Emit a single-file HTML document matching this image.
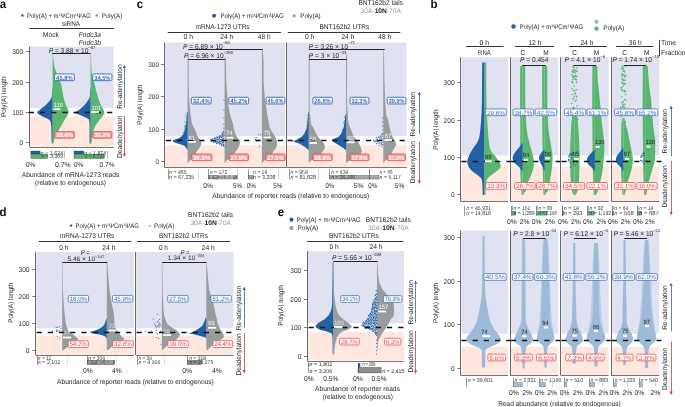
<!DOCTYPE html>
<html><head><meta charset="utf-8"><style>
html,body{margin:0;padding:0;background:#fff;width:685px;height:407px;overflow:hidden}
svg{display:block;will-change:transform}
text{font-family:"Liberation Sans",sans-serif;text-rendering:geometricPrecision}
</style></head><body>
<svg width="685" height="407" viewBox="0 0 685 407" font-family="Liberation Sans, sans-serif">
<rect width="685" height="407" fill="#fff"/>
<rect x="29.90" y="46.70" width="83.80" height="61.10" fill="#e0e2f2" />
<rect x="29.90" y="116.40" width="83.80" height="30.50" fill="#fde7df" />
<text x="-0.30" y="8.19" font-size="12.19" fill="#111" font-weight="bold" textLength="6.395078125" lengthAdjust="spacingAndGlyphs">a</text>
<circle cx="22.40" cy="15.50" r="1.30" fill="#2161a6"/>
<text x="27.00" y="17.90" font-size="6.68" fill="#262626" textLength="63.6" lengthAdjust="spacingAndGlyphs">Poly(A) + m<tspan font-size="3.78" dy="-1.6">1</tspan><tspan dy="1.6">Ψ</tspan>Cm<tspan font-size="3.78" dy="-1.6">1</tspan><tspan dy="1.6">Ψ</tspan>AG</text>
<circle cx="96.80" cy="15.50" r="1.30" fill="#58b66e"/>
<text x="101.70" y="17.90" font-size="6.68" fill="#262626" textLength="20.6" lengthAdjust="spacingAndGlyphs">Poly(A)</text>
<text x="62.00" y="26.08" font-size="6.89" fill="#262626" textLength="18" lengthAdjust="spacingAndGlyphs">siRNA</text>
<line x1="29.50" y1="28.50" x2="113.90" y2="28.50" stroke="#333" stroke-width="1.2" />
<text x="42.80" y="36.72" font-size="7.00" fill="#262626" textLength="16.2" lengthAdjust="spacingAndGlyphs">Mock</text>
<text x="78.80" y="36.72" font-size="7.00" fill="#262626" font-style="italic" textLength="22.2" lengthAdjust="spacingAndGlyphs">Fndc3a</text>
<text x="78.80" y="44.52" font-size="7.00" fill="#262626" font-style="italic" textLength="22.2" lengthAdjust="spacingAndGlyphs">Fndc3b</text>
<text x="0" y="2.44" font-size="6.78" fill="#262626" text-anchor="middle" textLength="40.8" lengthAdjust="spacingAndGlyphs" transform="translate(3.50 96.70) rotate(-90)">Poly(A) length</text>
<line x1="29.50" y1="46.70" x2="29.50" y2="147.00" stroke="#444" stroke-width="0.8" />
<line x1="25.90" y1="142.50" x2="29.50" y2="142.50" stroke="#444" stroke-width="0.7" />
<text x="23.20" y="144.92" font-size="7.00" fill="#333" text-anchor="end" textLength="3.6702187499999996" lengthAdjust="spacingAndGlyphs">0</text>
<line x1="25.90" y1="112.50" x2="29.50" y2="112.50" stroke="#444" stroke-width="0.7" />
<text x="23.20" y="114.72" font-size="7.00" fill="#333" text-anchor="end" textLength="11.01065625" lengthAdjust="spacingAndGlyphs">100</text>
<line x1="25.90" y1="82.50" x2="29.50" y2="82.50" stroke="#444" stroke-width="0.7" />
<text x="23.20" y="84.52" font-size="7.00" fill="#333" text-anchor="end" textLength="11.01065625" lengthAdjust="spacingAndGlyphs">200</text>
<line x1="25.90" y1="51.50" x2="29.50" y2="51.50" stroke="#444" stroke-width="0.7" />
<text x="23.20" y="54.32" font-size="7.00" fill="#333" text-anchor="end" textLength="11.01065625" lengthAdjust="spacingAndGlyphs">300</text>
<path d="M52.60,47.50 L53.00,47.50 C53.07,49.58 52.97,56.12 53.40,60.00 C53.83,63.88 54.35,66.85 55.60,70.80 C56.85,74.75 59.60,79.40 60.90,83.70 C62.20,88.00 62.63,93.17 63.40,96.60 C64.17,100.03 64.63,101.73 65.50,104.30 C66.37,106.87 68.75,109.42 68.60,112.00 C68.45,114.58 65.98,117.20 64.60,119.80 C63.22,122.40 61.80,125.02 60.30,127.60 C58.80,130.18 56.63,133.07 55.60,135.30 C54.57,137.53 54.47,139.63 54.10,141.00 C53.73,142.37 53.52,143.08 53.40,143.50 L52.60,143.50 Z" fill="#58b66e" />
<path d="M52.60,88.00 L52.30,88.00 C52.25,88.83 52.15,91.33 52.00,93.00 C51.85,94.67 52.30,96.12 51.40,98.00 C50.50,99.88 48.47,102.38 46.60,104.30 C44.73,106.22 41.78,108.12 40.20,109.50 C38.62,110.88 36.87,111.52 37.10,112.60 C37.33,113.68 39.58,114.80 41.60,116.00 C43.62,117.20 47.62,118.30 49.20,119.80 C50.78,121.30 50.70,121.63 51.10,125.00 C51.50,128.37 51.48,136.92 51.60,140.00 C51.72,143.08 51.77,142.92 51.80,143.50 L52.60,143.50 Z" fill="#2161a6" />
<path d="M90.60,52.70 L91.00,52.70 C91.05,54.75 91.17,61.78 91.30,65.00 C91.43,68.22 91.27,68.88 91.80,72.00 C92.33,75.12 93.62,80.03 94.50,83.70 C95.38,87.37 96.12,90.57 97.10,94.00 C98.08,97.43 99.20,101.20 100.40,104.30 C101.60,107.40 104.43,110.02 104.30,112.60 C104.17,115.18 101.23,117.30 99.60,119.80 C97.97,122.30 95.67,125.02 94.50,127.60 C93.33,130.18 93.05,133.07 92.60,135.30 C92.15,137.53 92.00,139.63 91.80,141.00 C91.60,142.37 91.47,143.08 91.40,143.50 L90.60,143.50 Z" fill="#58b66e" />
<path d="M90.60,88.00 L90.30,88.00 C90.25,88.83 90.15,91.33 90.00,93.00 C89.85,94.67 90.38,95.90 89.40,98.00 C88.42,100.10 86.05,103.47 84.10,105.60 C82.15,107.73 79.42,109.63 77.70,110.80 C75.98,111.97 73.37,111.87 73.80,112.60 C74.23,113.33 78.02,114.22 80.30,115.20 C82.58,116.18 85.98,117.30 87.50,118.50 C89.02,119.70 89.05,118.82 89.40,122.40 C89.75,125.98 89.53,136.48 89.60,140.00 C89.67,143.52 89.77,142.92 89.80,143.50 L90.60,143.50 Z" fill="#2161a6" />
<line x1="28.70" y1="112.50" x2="113.70" y2="112.50" stroke="#111" stroke-width="1.3" stroke-dasharray="5.2 6.0"/>
<text x="48.70" y="52.62" font-size="7.00" fill="#262626" textLength="46.57199249999999" lengthAdjust="spacingAndGlyphs"><tspan font-style="italic">P</tspan> = 3.88 × 10<tspan font-size="4.34" dy="-4.09">−87</tspan></text>
<line x1="52.40" y1="53.50" x2="90.70" y2="53.50" stroke="#1a1a1a" stroke-width="0.95" />
<rect x="54.65" y="73.95" width="19.70" height="6.70" rx="1.2" fill="#fff" stroke="#3a6cb8" stroke-width="0.95"/>
<text x="64.50" y="79.55" font-size="6.25" fill="#3a6cb8" text-anchor="middle" font-weight="bold" textLength="16.800000000000004" lengthAdjust="spacingAndGlyphs">45.8%</text>
<rect x="92.75" y="73.95" width="19.20" height="6.70" rx="1.2" fill="#fff" stroke="#3a6cb8" stroke-width="0.95"/>
<text x="102.35" y="79.55" font-size="6.25" fill="#3a6cb8" text-anchor="middle" font-weight="bold" textLength="16.29999999999999" lengthAdjust="spacingAndGlyphs">34.5%</text>
<rect x="54.65" y="131.55" width="19.70" height="6.70" rx="1.2" fill="#f4a0a0" stroke="#e8474a" stroke-width="0.75"/>
<text x="64.50" y="137.15" font-size="6.25" fill="#fff" text-anchor="middle" font-weight="bold" textLength="16.800000000000004" lengthAdjust="spacingAndGlyphs">28.4%</text>
<rect x="92.75" y="131.55" width="19.20" height="6.70" rx="1.2" fill="#f4a0a0" stroke="#e8474a" stroke-width="0.75"/>
<text x="102.35" y="137.15" font-size="6.25" fill="#fff" text-anchor="middle" font-weight="bold" textLength="16.29999999999999" lengthAdjust="spacingAndGlyphs">30.2%</text>
<rect x="53.50" y="108.30" width="6.80" height="1.80" fill="#fff" />
<text x="53.80" y="106.81" font-size="6.15" fill="#fff" textLength="9.2455625" lengthAdjust="spacingAndGlyphs">110</text>
<rect x="91.30" y="111.10" width="7.70" height="1.80" fill="#fff" />
<text x="91.60" y="109.61" font-size="6.15" fill="#fff" textLength="9.67603125" lengthAdjust="spacingAndGlyphs">101</text>
<rect x="30.90" y="151.00" width="9.20" height="3.10" fill="#2161a6" stroke="#222" stroke-width="0.3"/>
<rect x="30.90" y="154.10" width="16.80" height="4.40" fill="#58b66e" stroke="#222" stroke-width="0.3"/>
<text x="40.50" y="154.71" font-size="5.72" fill="#3a3a3a" textLength="22.7" lengthAdjust="spacingAndGlyphs"><tspan font-style="italic">n</tspan> = 1,624</text>
<text x="41.00" y="158.36" font-size="5.72" fill="#3a3a3a" textLength="22.1" lengthAdjust="spacingAndGlyphs"><tspan font-style="italic">n</tspan> = 3,369</text>
<line x1="64.50" y1="151.00" x2="64.50" y2="158.50" stroke="#555" stroke-width="0.4" />
<rect x="74.00" y="151.00" width="9.80" height="3.10" fill="#2161a6" stroke="#222" stroke-width="0.3"/>
<rect x="74.00" y="154.10" width="30.20" height="4.40" fill="#58b66e" stroke="#222" stroke-width="0.3"/>
<text x="84.20" y="154.71" font-size="5.72" fill="#3a3a3a" textLength="22.0" lengthAdjust="spacingAndGlyphs"><tspan font-style="italic">n</tspan> = 1,874</text>
<text x="84.70" y="158.36" font-size="5.72" fill="#3a3a3a" textLength="20.0" lengthAdjust="spacingAndGlyphs"><tspan font-style="italic">n</tspan> = 6,723</text>
<line x1="107.50" y1="151.00" x2="107.50" y2="158.50" stroke="#555" stroke-width="0.4" />
<text x="26.00" y="166.92" font-size="7.00" fill="#262626" textLength="9.2" lengthAdjust="spacingAndGlyphs">0%</text>
<text x="54.90" y="166.92" font-size="7.00" fill="#262626" textLength="15.8" lengthAdjust="spacingAndGlyphs">0.7%</text>
<text x="74.00" y="166.92" font-size="7.00" fill="#262626" textLength="9.2" lengthAdjust="spacingAndGlyphs">0%</text>
<text x="99.60" y="166.92" font-size="7.00" fill="#262626" textLength="15.1" lengthAdjust="spacingAndGlyphs">0.7%</text>
<text x="21.80" y="177.02" font-size="7.00" fill="#262626" textLength="97.4" lengthAdjust="spacingAndGlyphs">Abundance of mRNA-1273 reads</text>
<text x="35.10" y="185.22" font-size="7.00" fill="#262626" textLength="70.8" lengthAdjust="spacingAndGlyphs">(relative to endogenous)</text>
<line x1="124.50" y1="66.90" x2="124.50" y2="107.70" stroke="#4a74bd" stroke-width="0.9" />
<path d="M122.80,68.00 L124.40,64.40 L126.00,68.00 Z" fill="#3d6bb5"/>
<text x="0" y="2.52" font-size="7.00" fill="#262626" text-anchor="middle" textLength="44.392218750000005" lengthAdjust="spacingAndGlyphs" transform="translate(119.30 86.60) rotate(-90)">Re-adenylation</text>
<line x1="124.50" y1="115.80" x2="124.50" y2="154.60" stroke="#ec4a4d" stroke-width="0.9" />
<path d="M122.80,153.50 L124.40,157.10 L126.00,153.50 Z" fill="#e23b3e"/>
<text x="0" y="2.52" font-size="7.00" fill="#262626" text-anchor="middle" textLength="42.194624999999995" lengthAdjust="spacingAndGlyphs" transform="translate(119.30 136.80) rotate(-90)">Deadenylation</text>
<line x1="29.90" y1="147.50" x2="113.90" y2="147.50" stroke="#555" stroke-width="0.8" />
<rect x="165.00" y="42.50" width="120.20" height="93.60" fill="#e0e2f2" />
<rect x="165.00" y="145.40" width="120.20" height="21.60" fill="#fde7df" />
<rect x="287.00" y="42.50" width="119.60" height="93.60" fill="#e0e2f2" />
<rect x="287.00" y="145.40" width="119.60" height="21.60" fill="#fde7df" />
<text x="136.80" y="8.19" font-size="12.19" fill="#111" font-weight="bold" textLength="6.395078125" lengthAdjust="spacingAndGlyphs">c</text>
<circle cx="214.10" cy="15.80" r="2.00" fill="#2161a6"/>
<text x="220.60" y="18.20" font-size="6.68" fill="#262626" textLength="63.1" lengthAdjust="spacingAndGlyphs">Poly(A) + m<tspan font-size="3.78" dy="-1.6">1</tspan><tspan dy="1.6">Ψ</tspan>Cm<tspan font-size="3.78" dy="-1.6">1</tspan><tspan dy="1.6">Ψ</tspan>AG</text>
<circle cx="294.20" cy="15.80" r="1.60" fill="#979c9c"/>
<text x="300.30" y="18.20" font-size="6.68" fill="#262626" textLength="20.4" lengthAdjust="spacingAndGlyphs">Poly(A)</text>
<text x="195.50" y="28.78" font-size="6.89" fill="#262626" textLength="54.1" lengthAdjust="spacingAndGlyphs">mRNA-1273 UTRs</text>
<text x="319.40" y="28.78" font-size="6.89" fill="#262626" textLength="49.9" lengthAdjust="spacingAndGlyphs">BNT162b2 UTRs</text>
<text x="358.40" y="5.28" font-size="6.89" fill="#262626" textLength="44.6" lengthAdjust="spacingAndGlyphs">BNT162b2 tails</text>
<text x="360.60" y="12.70" font-size="6.68" fill="#262626" textLength="40.3" lengthAdjust="spacingAndGlyphs"><tspan fill="#999">30A-</tspan><tspan font-weight="bold" fill="#222">10N</tspan><tspan fill="#999">-70A</tspan></text>
<line x1="167.70" y1="32.50" x2="280.90" y2="32.50" stroke="#333" stroke-width="1.2" />
<line x1="287.80" y1="32.50" x2="400.40" y2="32.50" stroke="#333" stroke-width="1.2" />
<text x="183.60" y="39.42" font-size="7.00" fill="#262626" textLength="9.6" lengthAdjust="spacingAndGlyphs">0 h</text>
<text x="220.25" y="39.42" font-size="7.00" fill="#262626" textLength="12.9" lengthAdjust="spacingAndGlyphs">24 h</text>
<text x="257.85" y="39.42" font-size="7.00" fill="#262626" textLength="12.7" lengthAdjust="spacingAndGlyphs">48 h</text>
<text x="304.90" y="39.42" font-size="7.00" fill="#262626" textLength="9.4" lengthAdjust="spacingAndGlyphs">0 h</text>
<text x="341.45" y="39.42" font-size="7.00" fill="#262626" textLength="12.9" lengthAdjust="spacingAndGlyphs">24 h</text>
<text x="378.35" y="39.42" font-size="7.00" fill="#262626" textLength="12.7" lengthAdjust="spacingAndGlyphs">48 h</text>
<text x="0" y="2.44" font-size="6.78" fill="#262626" text-anchor="middle" textLength="40.2" lengthAdjust="spacingAndGlyphs" transform="translate(139.80 104.70) rotate(-90)">Poly(A) length</text>
<line x1="164.50" y1="42.50" x2="164.50" y2="167.20" stroke="#444" stroke-width="0.8" />
<line x1="161.00" y1="161.50" x2="164.60" y2="161.50" stroke="#444" stroke-width="0.7" />
<text x="159.00" y="164.24" font-size="6.78" fill="#333" text-anchor="end" textLength="3.559" lengthAdjust="spacingAndGlyphs">0</text>
<line x1="161.00" y1="129.50" x2="164.60" y2="129.50" stroke="#444" stroke-width="0.7" />
<text x="159.00" y="131.74" font-size="6.78" fill="#333" text-anchor="end" textLength="10.677" lengthAdjust="spacingAndGlyphs">100</text>
<line x1="161.00" y1="96.50" x2="164.60" y2="96.50" stroke="#444" stroke-width="0.7" />
<text x="159.00" y="99.24" font-size="6.78" fill="#333" text-anchor="end" textLength="10.677" lengthAdjust="spacingAndGlyphs">200</text>
<line x1="161.00" y1="64.50" x2="164.60" y2="64.50" stroke="#444" stroke-width="0.7" />
<text x="159.00" y="66.74" font-size="6.78" fill="#333" text-anchor="end" textLength="10.677" lengthAdjust="spacingAndGlyphs">300</text>
<line x1="286.50" y1="42.50" x2="286.50" y2="167.20" stroke="#444" stroke-width="0.8" />
<line x1="164.60" y1="167.50" x2="286.20" y2="167.50" stroke="#555" stroke-width="0.8" />
<line x1="286.60" y1="167.50" x2="406.80" y2="167.50" stroke="#555" stroke-width="0.8" />
<path d="M187.60,54.40 L188.10,54.40 C188.20,55.33 188.60,55.07 188.70,60.00 C188.80,64.93 188.62,77.33 188.70,84.00 C188.78,90.67 188.98,96.00 189.20,100.00 C189.42,104.00 189.73,105.33 190.00,108.00 C190.27,110.67 190.45,113.33 190.80,116.00 C191.15,118.67 191.55,122.00 192.10,124.00 C192.65,126.00 193.43,126.67 194.10,128.00 C194.77,129.33 195.58,130.67 196.10,132.00 C196.62,133.33 196.48,134.67 197.20,136.00 C197.92,137.33 199.73,138.67 200.40,140.00 C201.07,141.33 201.38,142.67 201.20,144.00 C201.02,145.33 200.10,146.67 199.30,148.00 C198.50,149.33 197.42,150.50 196.40,152.00 C195.38,153.50 194.40,155.50 193.20,157.00 C192.00,158.50 190.05,160.00 189.20,161.00 C188.35,162.00 188.28,162.67 188.10,163.00 L187.60,163.00 Z" fill="#979c9c" />
<path d="M187.60,112.00 L187.20,112.00 C187.12,113.00 186.93,115.83 186.70,118.00 C186.47,120.17 186.25,122.55 185.80,125.00 C185.35,127.45 184.97,130.63 184.00,132.70 C183.03,134.77 181.90,136.08 180.00,137.40 C178.10,138.72 173.30,139.68 172.60,140.60 C171.90,141.52 173.93,142.10 175.80,142.90 C177.67,143.70 182.00,144.45 183.80,145.40 C185.60,146.35 186.03,147.83 186.60,148.60 C187.17,149.37 187.10,149.77 187.20,150.00 L187.60,150.00 Z" fill="#2161a6" />
<circle cx="187.08" cy="112.73" r="0.55" fill="#2161a6"/>
<circle cx="185.97" cy="114.98" r="0.55" fill="#2161a6"/>
<circle cx="187.28" cy="116.32" r="0.55" fill="#2161a6"/>
<circle cx="186.35" cy="117.58" r="0.55" fill="#2161a6"/>
<circle cx="187.43" cy="119.34" r="0.55" fill="#2161a6"/>
<circle cx="186.58" cy="120.99" r="0.55" fill="#2161a6"/>
<circle cx="187.54" cy="122.34" r="0.55" fill="#2161a6"/>
<circle cx="185.06" cy="122.05" r="0.55" fill="#2161a6"/>
<circle cx="186.52" cy="123.63" r="0.55" fill="#2161a6"/>
<circle cx="187.35" cy="125.65" r="0.55" fill="#2161a6"/>
<circle cx="184.96" cy="125.81" r="0.55" fill="#2161a6"/>
<circle cx="185.83" cy="127.46" r="0.55" fill="#2161a6"/>
<circle cx="184.84" cy="126.81" r="0.55" fill="#2161a6"/>
<circle cx="187.43" cy="128.89" r="0.55" fill="#2161a6"/>
<circle cx="185.03" cy="128.83" r="0.55" fill="#2161a6"/>
<circle cx="185.92" cy="130.64" r="0.55" fill="#2161a6"/>
<circle cx="184.69" cy="130.71" r="0.55" fill="#2161a6"/>
<circle cx="186.75" cy="131.61" r="0.55" fill="#2161a6"/>
<circle cx="185.52" cy="131.90" r="0.55" fill="#2161a6"/>
<circle cx="183.28" cy="132.18" r="0.55" fill="#2161a6"/>
<path d="M224.60,57.60 L225.10,57.60 C225.20,58.00 225.47,55.60 225.70,60.00 C225.93,64.40 226.15,77.33 226.50,84.00 C226.85,90.67 227.40,96.00 227.80,100.00 C228.20,104.00 228.45,105.33 228.90,108.00 C229.35,110.67 229.82,113.33 230.50,116.00 C231.18,118.67 232.45,122.00 233.00,124.00 C233.55,126.00 233.27,126.00 233.80,128.00 C234.33,130.00 235.22,134.00 236.20,136.00 C237.18,138.00 239.12,138.67 239.70,140.00 C240.28,141.33 239.97,142.67 239.70,144.00 C239.43,145.33 238.82,146.67 238.10,148.00 C237.38,149.33 236.53,150.50 235.40,152.00 C234.27,153.50 232.85,155.50 231.30,157.00 C229.75,158.50 227.13,160.00 226.10,161.00 C225.07,162.00 225.27,162.67 225.10,163.00 L224.60,163.00 Z" fill="#979c9c" />
<path d="M261.90,49.60 L262.40,49.60 C262.58,51.33 263.27,54.27 263.50,60.00 C263.73,65.73 263.53,77.33 263.80,84.00 C264.07,90.67 264.67,96.00 265.10,100.00 C265.53,104.00 266.00,105.33 266.40,108.00 C266.80,110.67 267.05,113.33 267.50,116.00 C267.95,118.67 268.70,122.00 269.10,124.00 C269.50,126.00 268.97,126.00 269.90,128.00 C270.83,130.00 273.62,134.00 274.70,136.00 C275.78,138.00 275.98,138.67 276.40,140.00 C276.82,141.33 277.28,142.67 277.20,144.00 C277.12,145.33 276.58,146.67 275.90,148.00 C275.22,149.33 274.10,150.50 273.10,152.00 C272.10,153.50 271.43,155.50 269.90,157.00 C268.37,158.50 265.15,160.00 263.90,161.00 C262.65,162.00 262.65,162.67 262.40,163.00 L261.90,163.00 Z" fill="#979c9c" />
<path d="M308.70,54.40 L309.20,54.40 C309.28,55.33 309.62,51.07 309.70,60.00 C309.78,68.93 309.60,98.67 309.70,108.00 C309.80,117.33 310.07,113.33 310.30,116.00 C310.53,118.67 310.57,122.00 311.10,124.00 C311.63,126.00 312.43,126.00 313.50,128.00 C314.57,130.00 316.30,134.00 317.50,136.00 C318.70,138.00 319.62,138.67 320.70,140.00 C321.78,141.33 323.33,142.67 324.00,144.00 C324.67,145.33 324.98,146.67 324.70,148.00 C324.42,149.33 323.50,150.50 322.30,152.00 C321.10,153.50 319.50,155.50 317.50,157.00 C315.50,158.50 311.68,160.00 310.30,161.00 C308.92,162.00 309.38,162.67 309.20,163.00 L308.70,163.00 Z" fill="#979c9c" />
<path d="M308.70,112.00 L308.30,112.00 C308.23,113.00 308.07,116.00 307.90,118.00 C307.73,120.00 307.60,122.00 307.30,124.00 C307.00,126.00 306.90,128.00 306.10,130.00 C305.30,132.00 304.20,134.33 302.50,136.00 C300.80,137.67 297.37,139.08 295.90,140.00 C294.43,140.92 293.03,140.83 293.70,141.50 C294.37,142.17 297.80,142.92 299.90,144.00 C302.00,145.08 304.90,147.00 306.30,148.00 C307.70,149.00 307.97,149.67 308.30,150.00 L308.70,150.00 Z" fill="#2161a6" />
<circle cx="308.44" cy="113.53" r="0.55" fill="#2161a6"/>
<circle cx="307.18" cy="115.29" r="0.55" fill="#2161a6"/>
<circle cx="308.54" cy="117.31" r="0.55" fill="#2161a6"/>
<circle cx="307.79" cy="118.28" r="0.55" fill="#2161a6"/>
<circle cx="308.22" cy="119.79" r="0.55" fill="#2161a6"/>
<circle cx="307.12" cy="121.84" r="0.55" fill="#2161a6"/>
<circle cx="307.83" cy="123.09" r="0.55" fill="#2161a6"/>
<circle cx="307.55" cy="125.01" r="0.55" fill="#2161a6"/>
<circle cx="308.02" cy="126.62" r="0.55" fill="#2161a6"/>
<circle cx="306.81" cy="126.03" r="0.55" fill="#2161a6"/>
<circle cx="307.71" cy="128.29" r="0.55" fill="#2161a6"/>
<circle cx="308.14" cy="129.32" r="0.55" fill="#2161a6"/>
<circle cx="306.96" cy="129.50" r="0.55" fill="#2161a6"/>
<circle cx="306.99" cy="130.82" r="0.55" fill="#2161a6"/>
<circle cx="305.95" cy="131.33" r="0.55" fill="#2161a6"/>
<path d="M346.10,54.40 L346.60,54.40 C346.68,55.33 347.02,52.40 347.10,60.00 C347.18,67.60 347.05,92.00 347.10,100.00 C347.15,108.00 347.25,105.33 347.40,108.00 C347.55,110.67 347.90,114.00 348.00,116.00 C348.10,118.00 347.85,118.67 348.00,120.00 C348.15,121.33 348.50,122.67 348.90,124.00 C349.30,125.33 349.62,126.00 350.40,128.00 C351.18,130.00 352.52,134.00 353.60,136.00 C354.68,138.00 355.95,138.67 356.90,140.00 C357.85,141.33 358.63,142.67 359.30,144.00 C359.97,145.33 360.50,146.67 360.90,148.00 C361.30,149.33 362.33,150.50 361.70,152.00 C361.07,153.50 358.87,155.67 357.10,157.00 C355.33,158.33 352.68,159.17 351.10,160.00 C349.52,160.83 348.35,161.50 347.60,162.00 C346.85,162.50 346.77,162.83 346.60,163.00 L346.10,163.00 Z" fill="#979c9c" />
<path d="M346.10,114.00 L345.70,114.00 C345.57,115.00 345.27,117.67 344.90,120.00 C344.53,122.33 344.42,125.33 343.50,128.00 C342.58,130.67 341.32,134.00 339.40,136.00 C337.48,138.00 332.43,138.67 332.00,140.00 C331.57,141.33 334.93,142.67 336.80,144.00 C338.67,145.33 341.72,147.00 343.20,148.00 C344.68,149.00 345.28,149.67 345.70,150.00 L346.10,150.00 Z" fill="#2161a6" />
<circle cx="345.24" cy="116.20" r="0.55" fill="#2161a6"/>
<circle cx="344.44" cy="117.53" r="0.55" fill="#2161a6"/>
<circle cx="345.87" cy="119.42" r="0.55" fill="#2161a6"/>
<circle cx="344.75" cy="120.70" r="0.55" fill="#2161a6"/>
<circle cx="345.22" cy="122.20" r="0.55" fill="#2161a6"/>
<circle cx="343.77" cy="122.62" r="0.55" fill="#2161a6"/>
<circle cx="344.85" cy="124.09" r="0.55" fill="#2161a6"/>
<circle cx="345.63" cy="125.07" r="0.55" fill="#2161a6"/>
<circle cx="344.25" cy="125.72" r="0.55" fill="#2161a6"/>
<circle cx="344.68" cy="126.56" r="0.55" fill="#2161a6"/>
<circle cx="345.71" cy="128.52" r="0.55" fill="#2161a6"/>
<circle cx="344.17" cy="128.63" r="0.55" fill="#2161a6"/>
<circle cx="344.81" cy="130.17" r="0.55" fill="#2161a6"/>
<circle cx="342.88" cy="129.64" r="0.55" fill="#2161a6"/>
<circle cx="345.26" cy="132.10" r="0.55" fill="#2161a6"/>
<circle cx="344.24" cy="131.46" r="0.55" fill="#2161a6"/>
<path d="M383.30,49.60 L383.70,49.60 C383.77,51.55 383.95,55.57 384.10,61.30 C384.25,67.03 384.42,77.55 384.60,84.00 C384.78,90.45 385.02,96.00 385.20,100.00 C385.38,104.00 385.48,105.33 385.70,108.00 C385.92,110.67 386.10,114.00 386.50,116.00 C386.90,118.00 387.72,118.67 388.10,120.00 C388.48,121.33 388.53,122.67 388.80,124.00 C389.07,125.33 389.15,126.00 389.70,128.00 C390.25,130.00 391.30,134.00 392.10,136.00 C392.90,138.00 393.83,138.67 394.50,140.00 C395.17,141.33 396.10,142.67 396.10,144.00 C396.10,145.33 395.17,146.67 394.50,148.00 C393.83,149.33 392.90,150.50 392.10,152.00 C391.30,153.50 390.90,155.50 389.70,157.00 C388.50,158.50 385.88,160.00 384.90,161.00 C383.92,162.00 383.98,162.67 383.80,163.00 L383.30,163.00 Z" fill="#979c9c" />
<circle cx="223.59" cy="131.04" r="0.62" fill="#2161a6"/>
<circle cx="223.05" cy="132.21" r="0.62" fill="#2161a6"/>
<circle cx="223.90" cy="132.91" r="0.62" fill="#2161a6"/>
<circle cx="222.11" cy="133.53" r="0.62" fill="#2161a6"/>
<circle cx="222.96" cy="134.18" r="0.62" fill="#2161a6"/>
<circle cx="222.25" cy="134.37" r="0.62" fill="#2161a6"/>
<circle cx="224.07" cy="135.51" r="0.62" fill="#2161a6"/>
<circle cx="222.61" cy="135.24" r="0.62" fill="#2161a6"/>
<circle cx="221.31" cy="135.82" r="0.62" fill="#2161a6"/>
<circle cx="219.92" cy="135.72" r="0.62" fill="#2161a6"/>
<circle cx="223.29" cy="136.31" r="0.62" fill="#2161a6"/>
<circle cx="222.06" cy="136.73" r="0.62" fill="#2161a6"/>
<circle cx="220.39" cy="136.28" r="0.62" fill="#2161a6"/>
<circle cx="219.54" cy="136.63" r="0.62" fill="#2161a6"/>
<circle cx="218.13" cy="136.96" r="0.62" fill="#2161a6"/>
<circle cx="216.82" cy="136.99" r="0.62" fill="#2161a6"/>
<circle cx="223.72" cy="138.03" r="0.62" fill="#2161a6"/>
<circle cx="222.46" cy="138.13" r="0.62" fill="#2161a6"/>
<circle cx="221.50" cy="137.46" r="0.62" fill="#2161a6"/>
<circle cx="219.61" cy="137.56" r="0.62" fill="#2161a6"/>
<circle cx="218.97" cy="137.73" r="0.62" fill="#2161a6"/>
<circle cx="217.40" cy="137.63" r="0.62" fill="#2161a6"/>
<circle cx="216.01" cy="137.69" r="0.62" fill="#2161a6"/>
<circle cx="214.58" cy="137.85" r="0.62" fill="#2161a6"/>
<circle cx="223.22" cy="139.24" r="0.62" fill="#2161a6"/>
<circle cx="222.00" cy="139.26" r="0.62" fill="#2161a6"/>
<circle cx="220.84" cy="139.31" r="0.62" fill="#2161a6"/>
<circle cx="219.39" cy="138.65" r="0.62" fill="#2161a6"/>
<circle cx="218.24" cy="139.29" r="0.62" fill="#2161a6"/>
<circle cx="216.97" cy="138.97" r="0.62" fill="#2161a6"/>
<circle cx="215.52" cy="138.69" r="0.62" fill="#2161a6"/>
<circle cx="214.32" cy="138.98" r="0.62" fill="#2161a6"/>
<circle cx="212.58" cy="138.57" r="0.62" fill="#2161a6"/>
<circle cx="224.08" cy="140.44" r="0.62" fill="#2161a6"/>
<circle cx="222.17" cy="140.29" r="0.62" fill="#2161a6"/>
<circle cx="221.13" cy="139.77" r="0.62" fill="#2161a6"/>
<circle cx="219.74" cy="140.26" r="0.62" fill="#2161a6"/>
<circle cx="218.90" cy="139.68" r="0.62" fill="#2161a6"/>
<circle cx="217.39" cy="139.68" r="0.62" fill="#2161a6"/>
<circle cx="216.17" cy="139.91" r="0.62" fill="#2161a6"/>
<circle cx="215.00" cy="140.43" r="0.62" fill="#2161a6"/>
<circle cx="213.40" cy="140.45" r="0.62" fill="#2161a6"/>
<circle cx="211.95" cy="139.71" r="0.62" fill="#2161a6"/>
<circle cx="210.88" cy="139.67" r="0.62" fill="#2161a6"/>
<circle cx="222.91" cy="141.11" r="0.62" fill="#2161a6"/>
<circle cx="221.94" cy="140.90" r="0.62" fill="#2161a6"/>
<circle cx="220.18" cy="141.47" r="0.62" fill="#2161a6"/>
<circle cx="219.10" cy="141.55" r="0.62" fill="#2161a6"/>
<circle cx="218.27" cy="141.08" r="0.62" fill="#2161a6"/>
<circle cx="216.62" cy="141.20" r="0.62" fill="#2161a6"/>
<circle cx="215.47" cy="141.26" r="0.62" fill="#2161a6"/>
<circle cx="214.10" cy="141.28" r="0.62" fill="#2161a6"/>
<circle cx="213.10" cy="141.18" r="0.62" fill="#2161a6"/>
<circle cx="211.39" cy="141.36" r="0.62" fill="#2161a6"/>
<circle cx="223.59" cy="142.15" r="0.62" fill="#2161a6"/>
<circle cx="222.88" cy="142.33" r="0.62" fill="#2161a6"/>
<circle cx="221.24" cy="141.92" r="0.62" fill="#2161a6"/>
<circle cx="219.83" cy="142.37" r="0.62" fill="#2161a6"/>
<circle cx="218.22" cy="142.40" r="0.62" fill="#2161a6"/>
<circle cx="217.41" cy="141.96" r="0.62" fill="#2161a6"/>
<circle cx="216.10" cy="142.28" r="0.62" fill="#2161a6"/>
<circle cx="214.84" cy="142.19" r="0.62" fill="#2161a6"/>
<circle cx="213.57" cy="142.50" r="0.62" fill="#2161a6"/>
<circle cx="222.77" cy="143.09" r="0.62" fill="#2161a6"/>
<circle cx="221.99" cy="143.81" r="0.62" fill="#2161a6"/>
<circle cx="220.35" cy="143.41" r="0.62" fill="#2161a6"/>
<circle cx="219.32" cy="143.30" r="0.62" fill="#2161a6"/>
<circle cx="217.84" cy="143.29" r="0.62" fill="#2161a6"/>
<circle cx="216.55" cy="143.52" r="0.62" fill="#2161a6"/>
<circle cx="223.64" cy="144.47" r="0.62" fill="#2161a6"/>
<circle cx="222.72" cy="144.19" r="0.62" fill="#2161a6"/>
<circle cx="221.26" cy="144.76" r="0.62" fill="#2161a6"/>
<circle cx="219.75" cy="144.35" r="0.62" fill="#2161a6"/>
<circle cx="223.39" cy="145.49" r="0.62" fill="#2161a6"/>
<circle cx="221.60" cy="145.65" r="0.62" fill="#2161a6"/>
<circle cx="223.96" cy="146.52" r="0.62" fill="#2161a6"/>
<circle cx="223.90" cy="100.00" r="0.60" fill="#2161a6"/>
<circle cx="223.90" cy="110.00" r="0.60" fill="#2161a6"/>
<circle cx="223.90" cy="118.00" r="0.60" fill="#2161a6"/>
<circle cx="223.90" cy="124.00" r="0.60" fill="#2161a6"/>
<circle cx="223.90" cy="128.00" r="0.60" fill="#2161a6"/>
<circle cx="382.89" cy="133.32" r="0.60" fill="#2161a6"/>
<circle cx="381.74" cy="134.24" r="0.60" fill="#2161a6"/>
<circle cx="382.10" cy="136.12" r="0.60" fill="#2161a6"/>
<circle cx="380.87" cy="136.22" r="0.60" fill="#2161a6"/>
<circle cx="379.07" cy="136.23" r="0.60" fill="#2161a6"/>
<circle cx="381.52" cy="137.74" r="0.60" fill="#2161a6"/>
<circle cx="380.28" cy="137.35" r="0.60" fill="#2161a6"/>
<circle cx="378.39" cy="137.62" r="0.60" fill="#2161a6"/>
<circle cx="376.34" cy="137.49" r="0.60" fill="#2161a6"/>
<circle cx="382.91" cy="138.68" r="0.60" fill="#2161a6"/>
<circle cx="381.20" cy="139.10" r="0.60" fill="#2161a6"/>
<circle cx="379.54" cy="138.75" r="0.60" fill="#2161a6"/>
<circle cx="377.09" cy="139.22" r="0.60" fill="#2161a6"/>
<circle cx="376.10" cy="138.86" r="0.60" fill="#2161a6"/>
<circle cx="381.34" cy="140.09" r="0.60" fill="#2161a6"/>
<circle cx="380.18" cy="140.19" r="0.60" fill="#2161a6"/>
<circle cx="378.80" cy="140.48" r="0.60" fill="#2161a6"/>
<circle cx="376.35" cy="140.55" r="0.60" fill="#2161a6"/>
<circle cx="374.81" cy="140.83" r="0.60" fill="#2161a6"/>
<circle cx="373.66" cy="140.41" r="0.60" fill="#2161a6"/>
<circle cx="382.74" cy="142.07" r="0.60" fill="#2161a6"/>
<circle cx="381.21" cy="142.35" r="0.60" fill="#2161a6"/>
<circle cx="378.73" cy="141.74" r="0.60" fill="#2161a6"/>
<circle cx="377.60" cy="141.68" r="0.60" fill="#2161a6"/>
<circle cx="375.89" cy="141.46" r="0.60" fill="#2161a6"/>
<circle cx="374.48" cy="141.90" r="0.60" fill="#2161a6"/>
<circle cx="381.37" cy="143.52" r="0.60" fill="#2161a6"/>
<circle cx="379.86" cy="143.05" r="0.60" fill="#2161a6"/>
<circle cx="378.33" cy="142.99" r="0.60" fill="#2161a6"/>
<circle cx="376.36" cy="143.72" r="0.60" fill="#2161a6"/>
<circle cx="382.80" cy="144.34" r="0.60" fill="#2161a6"/>
<circle cx="381.18" cy="144.35" r="0.60" fill="#2161a6"/>
<circle cx="379.03" cy="145.24" r="0.60" fill="#2161a6"/>
<circle cx="381.87" cy="146.12" r="0.60" fill="#2161a6"/>
<circle cx="382.60" cy="118.00" r="0.60" fill="#2161a6"/>
<circle cx="382.60" cy="122.00" r="0.60" fill="#2161a6"/>
<circle cx="382.60" cy="126.00" r="0.60" fill="#2161a6"/>
<circle cx="382.60" cy="130.00" r="0.60" fill="#2161a6"/>
<circle cx="382.60" cy="134.00" r="0.60" fill="#2161a6"/>
<circle cx="256.20" cy="137.63" r="0.55" fill="#2161a6"/>
<circle cx="258.49" cy="134.77" r="0.55" fill="#2161a6"/>
<circle cx="260.85" cy="134.86" r="0.55" fill="#2161a6"/>
<circle cx="256.55" cy="141.01" r="0.55" fill="#2161a6"/>
<circle cx="255.40" cy="139.24" r="0.55" fill="#2161a6"/>
<circle cx="259.71" cy="139.79" r="0.55" fill="#2161a6"/>
<circle cx="258.18" cy="140.86" r="0.55" fill="#2161a6"/>
<circle cx="255.84" cy="139.61" r="0.55" fill="#2161a6"/>
<circle cx="258.37" cy="140.64" r="0.55" fill="#2161a6"/>
<circle cx="259.65" cy="145.97" r="0.55" fill="#2161a6"/>
<line x1="165.80" y1="140.50" x2="285.20" y2="140.50" stroke="#111" stroke-width="1.3" stroke-dasharray="5.2 6.0"/>
<line x1="287.60" y1="140.50" x2="406.60" y2="140.50" stroke="#111" stroke-width="1.3" stroke-dasharray="5.2 6.0"/>
<text x="183.10" y="48.52" font-size="7.00" fill="#262626" textLength="46.57199249999999" lengthAdjust="spacingAndGlyphs"><tspan font-style="italic">P</tspan> = 6.89 × 10<tspan font-size="4.34" dy="-4.09">−68</tspan></text>
<line x1="188.30" y1="49.50" x2="262.80" y2="49.50" stroke="#1a1a1a" stroke-width="0.95" />
<text x="184.00" y="57.92" font-size="7.00" fill="#262626" textLength="48.847528125" lengthAdjust="spacingAndGlyphs"><tspan font-style="italic">P</tspan> = 6.96 × 10<tspan font-size="4.34" dy="-4.09">−259</tspan></text>
<line x1="188.30" y1="59.50" x2="225.30" y2="59.50" stroke="#1a1a1a" stroke-width="0.95" />
<text x="308.50" y="48.52" font-size="7.00" fill="#262626" textLength="46.57199249999999" lengthAdjust="spacingAndGlyphs"><tspan font-style="italic">P</tspan> = 3.26 × 10<tspan font-size="4.34" dy="-4.09">−71</tspan></text>
<line x1="309.10" y1="49.50" x2="384.70" y2="49.50" stroke="#1a1a1a" stroke-width="0.95" />
<text x="308.80" y="58.32" font-size="7.00" fill="#262626" textLength="37.3979925" lengthAdjust="spacingAndGlyphs"><tspan font-style="italic">P</tspan> = 3 × 10<tspan font-size="4.34" dy="-4.09">−43</tspan></text>
<line x1="309.10" y1="59.50" x2="346.80" y2="59.50" stroke="#1a1a1a" stroke-width="0.95" />
<rect x="191.35" y="97.25" width="19.80" height="6.70" rx="1.2" fill="#fff" stroke="#3a6cb8" stroke-width="0.95"/>
<text x="201.25" y="102.85" font-size="6.25" fill="#3a6cb8" text-anchor="middle" font-weight="bold" textLength="16.9" lengthAdjust="spacingAndGlyphs">32.4%</text>
<rect x="228.85" y="97.25" width="19.80" height="6.70" rx="1.2" fill="#fff" stroke="#3a6cb8" stroke-width="0.95"/>
<text x="238.75" y="102.85" font-size="6.25" fill="#3a6cb8" text-anchor="middle" font-weight="bold" textLength="16.9" lengthAdjust="spacingAndGlyphs">45.2%</text>
<rect x="266.15" y="97.25" width="18.70" height="6.70" rx="1.2" fill="#fff" stroke="#3a6cb8" stroke-width="0.95"/>
<text x="275.50" y="102.85" font-size="6.25" fill="#3a6cb8" text-anchor="middle" font-weight="bold" textLength="15.799999999999978" lengthAdjust="spacingAndGlyphs">45.6%</text>
<rect x="312.85" y="97.25" width="19.40" height="6.70" rx="1.2" fill="#fff" stroke="#3a6cb8" stroke-width="0.95"/>
<text x="322.55" y="102.85" font-size="6.25" fill="#3a6cb8" text-anchor="middle" font-weight="bold" textLength="16.50000000000002" lengthAdjust="spacingAndGlyphs">26.6%</text>
<rect x="350.05" y="97.25" width="18.90" height="6.70" rx="1.2" fill="#fff" stroke="#3a6cb8" stroke-width="0.95"/>
<text x="359.50" y="102.85" font-size="6.25" fill="#3a6cb8" text-anchor="middle" font-weight="bold" textLength="16.00000000000002" lengthAdjust="spacingAndGlyphs">32.3%</text>
<rect x="387.25" y="97.25" width="18.60" height="6.70" rx="1.2" fill="#fff" stroke="#3a6cb8" stroke-width="0.95"/>
<text x="396.55" y="102.85" font-size="6.25" fill="#3a6cb8" text-anchor="middle" font-weight="bold" textLength="15.700000000000012" lengthAdjust="spacingAndGlyphs">39.9%</text>
<rect x="191.45" y="153.95" width="20.50" height="6.70" rx="1.2" fill="#f4a0a0" stroke="#e8474a" stroke-width="0.75"/>
<text x="201.70" y="159.55" font-size="6.25" fill="#fff" text-anchor="middle" font-weight="bold" textLength="17.600000000000016" lengthAdjust="spacingAndGlyphs">36.5%</text>
<rect x="229.05" y="153.95" width="19.50" height="6.70" rx="1.2" fill="#f4a0a0" stroke="#e8474a" stroke-width="0.75"/>
<text x="238.80" y="159.55" font-size="6.25" fill="#fff" text-anchor="middle" font-weight="bold" textLength="16.600000000000016" lengthAdjust="spacingAndGlyphs">27.9%</text>
<rect x="265.85" y="153.95" width="19.30" height="6.70" rx="1.2" fill="#f4a0a0" stroke="#e8474a" stroke-width="0.75"/>
<text x="275.50" y="159.55" font-size="6.25" fill="#fff" text-anchor="middle" font-weight="bold" textLength="16.4" lengthAdjust="spacingAndGlyphs">27.5%</text>
<rect x="312.85" y="153.95" width="19.40" height="6.70" rx="1.2" fill="#f4a0a0" stroke="#e8474a" stroke-width="0.75"/>
<text x="322.55" y="159.55" font-size="6.25" fill="#fff" text-anchor="middle" font-weight="bold" textLength="16.50000000000002" lengthAdjust="spacingAndGlyphs">38.8%</text>
<rect x="350.05" y="153.95" width="18.90" height="6.70" rx="1.2" fill="#f4a0a0" stroke="#e8474a" stroke-width="0.75"/>
<text x="359.50" y="159.55" font-size="6.25" fill="#fff" text-anchor="middle" font-weight="bold" textLength="16.00000000000002" lengthAdjust="spacingAndGlyphs">37.8%</text>
<rect x="387.25" y="153.95" width="18.30" height="6.70" rx="1.2" fill="#f4a0a0" stroke="#e8474a" stroke-width="0.75"/>
<text x="396.40" y="159.55" font-size="6.25" fill="#fff" text-anchor="middle" font-weight="bold" textLength="15.4" lengthAdjust="spacingAndGlyphs">31.0%</text>
<rect x="188.50" y="141.08" width="7.50" height="1.80" fill="#fff" />
<text x="188.80" y="139.59" font-size="6.15" fill="#fff" textLength="6.4506875" lengthAdjust="spacingAndGlyphs">61</text>
<rect x="226.00" y="136.85" width="7.50" height="1.80" fill="#fff" />
<text x="226.30" y="135.36" font-size="6.15" fill="#fff" textLength="6.4506875" lengthAdjust="spacingAndGlyphs">74</text>
<rect x="263.50" y="136.53" width="7.50" height="1.80" fill="#fff" />
<text x="263.80" y="135.04" font-size="6.15" fill="#fff" textLength="6.4506875" lengthAdjust="spacingAndGlyphs">75</text>
<rect x="309.50" y="142.05" width="7.50" height="1.80" fill="#fff" />
<text x="309.80" y="140.56" font-size="6.15" fill="#fff" textLength="6.4506875" lengthAdjust="spacingAndGlyphs">58</text>
<rect x="347.00" y="141.40" width="7.50" height="1.80" fill="#fff" />
<text x="347.30" y="139.91" font-size="6.15" fill="#fff" textLength="6.4506875" lengthAdjust="spacingAndGlyphs">60</text>
<rect x="384.50" y="139.12" width="7.50" height="1.80" fill="#fff" />
<text x="384.80" y="137.64" font-size="6.15" fill="#fff" textLength="6.4506875" lengthAdjust="spacingAndGlyphs">67</text>
<line x1="419.50" y1="93.90" x2="419.50" y2="134.50" stroke="#4a74bd" stroke-width="0.9" />
<path d="M417.70,95.00 L419.30,91.40 L420.90,95.00 Z" fill="#3d6bb5"/>
<text x="0" y="2.52" font-size="7.00" fill="#262626" text-anchor="middle" textLength="44.392218750000005" lengthAdjust="spacingAndGlyphs" transform="translate(412.70 114.30) rotate(-90)">Re-adenylation</text>
<line x1="419.50" y1="141.60" x2="419.50" y2="181.50" stroke="#ec4a4d" stroke-width="0.9" />
<path d="M417.70,180.40 L419.30,184.00 L420.90,180.40 Z" fill="#e23b3e"/>
<text x="0" y="2.52" font-size="7.00" fill="#262626" text-anchor="middle" textLength="42.194624999999995" lengthAdjust="spacingAndGlyphs" transform="translate(412.70 162.20) rotate(-90)">Deadenylation</text>
<line x1="168.50" y1="169.10" x2="168.50" y2="179.10" stroke="#333" stroke-width="0.5" />
<text x="169.10" y="173.82" font-size="5.62" fill="#3a3a3a" textLength="17.5" lengthAdjust="spacingAndGlyphs"><tspan font-style="italic">n</tspan> = 465</text>
<text x="169.10" y="179.42" font-size="5.62" fill="#3a3a3a" textLength="25.1" lengthAdjust="spacingAndGlyphs"><tspan font-style="italic">n</tspan> = 67,235</text>
<line x1="198.50" y1="169.10" x2="198.50" y2="179.10" stroke="#999" stroke-width="0.4" />
<line x1="208.50" y1="169.10" x2="208.50" y2="179.10" stroke="#333" stroke-width="0.5" />
<rect x="208.40" y="175.50" width="29.00" height="3.50" fill="#7d7d7d" stroke="#333" stroke-width="0.35"/>
<text x="209.70" y="173.82" font-size="5.62" fill="#3a3a3a" textLength="17.7" lengthAdjust="spacingAndGlyphs"><tspan font-style="italic">n</tspan> = 172</text>
<text x="209.70" y="179.42" font-size="5.62" fill="#ddd" textLength="24.0" lengthAdjust="spacingAndGlyphs"><tspan font-style="italic">n</tspan> = 29,858</text>
<line x1="237.50" y1="169.10" x2="237.50" y2="179.10" stroke="#999" stroke-width="0.4" />
<line x1="248.50" y1="169.10" x2="248.50" y2="179.10" stroke="#333" stroke-width="0.5" />
<rect x="248.80" y="175.50" width="4.60" height="3.50" fill="#9a9a9a" stroke="#333" stroke-width="0.35"/>
<text x="253.00" y="173.82" font-size="5.62" fill="#3a3a3a" textLength="14.2" lengthAdjust="spacingAndGlyphs"><tspan font-style="italic">n</tspan> = 19</text>
<text x="253.00" y="179.42" font-size="5.62" fill="#3a3a3a" textLength="22.4" lengthAdjust="spacingAndGlyphs"><tspan font-style="italic">n</tspan> = 3,208</text>
<line x1="278.50" y1="169.10" x2="278.50" y2="179.10" stroke="#999" stroke-width="0.4" />
<line x1="289.50" y1="169.10" x2="289.50" y2="179.10" stroke="#333" stroke-width="0.5" />
<text x="290.40" y="173.82" font-size="5.62" fill="#3a3a3a" textLength="17.5" lengthAdjust="spacingAndGlyphs"><tspan font-style="italic">n</tspan> = 959</text>
<text x="290.40" y="179.42" font-size="5.62" fill="#3a3a3a" textLength="25.6" lengthAdjust="spacingAndGlyphs"><tspan font-style="italic">n</tspan> = 81,828</text>
<line x1="318.50" y1="169.10" x2="318.50" y2="179.10" stroke="#999" stroke-width="0.4" />
<line x1="329.50" y1="169.10" x2="329.50" y2="179.10" stroke="#333" stroke-width="0.5" />
<rect x="329.70" y="175.50" width="39.50" height="3.50" fill="#a9a9a9" stroke="#333" stroke-width="0.35"/>
<text x="331.20" y="173.82" font-size="5.62" fill="#3a3a3a" textLength="17.1" lengthAdjust="spacingAndGlyphs"><tspan font-style="italic">n</tspan> = 434</text>
<text x="331.20" y="179.42" font-size="5.62" fill="#3a3a3a" textLength="24.0" lengthAdjust="spacingAndGlyphs"><tspan font-style="italic">n</tspan> = 36,166</text>
<line x1="369.50" y1="169.10" x2="369.50" y2="179.10" stroke="#999" stroke-width="0.4" />
<line x1="369.50" y1="169.10" x2="369.50" y2="179.10" stroke="#333" stroke-width="0.5" />
<rect x="369.60" y="175.50" width="9.40" height="3.50" fill="#a9a9a9" stroke="#333" stroke-width="0.35"/>
<text x="379.60" y="173.82" font-size="5.62" fill="#3a3a3a" textLength="13.0" lengthAdjust="spacingAndGlyphs"><tspan font-style="italic">n</tspan> = 66</text>
<text x="379.60" y="179.42" font-size="5.62" fill="#3a3a3a" textLength="21.4" lengthAdjust="spacingAndGlyphs"><tspan font-style="italic">n</tspan> = 5,117</text>
<text x="203.30" y="187.72" font-size="7.00" fill="#262626" textLength="9.8" lengthAdjust="spacingAndGlyphs">0%</text>
<text x="233.00" y="187.72" font-size="7.00" fill="#262626" textLength="9.0" lengthAdjust="spacingAndGlyphs">5%</text>
<text x="246.70" y="187.72" font-size="7.00" fill="#262626" textLength="9.1" lengthAdjust="spacingAndGlyphs">0%</text>
<text x="273.30" y="187.72" font-size="7.00" fill="#262626" textLength="9.1" lengthAdjust="spacingAndGlyphs">5%</text>
<text x="325.50" y="187.72" font-size="7.00" fill="#262626" textLength="8.5" lengthAdjust="spacingAndGlyphs">0%</text>
<text x="353.60" y="187.72" font-size="7.00" fill="#262626" textLength="9.9" lengthAdjust="spacingAndGlyphs">5%</text>
<text x="368.20" y="187.72" font-size="7.00" fill="#262626" textLength="9.0" lengthAdjust="spacingAndGlyphs">0%</text>
<text x="394.80" y="187.72" font-size="7.00" fill="#262626" textLength="9.5" lengthAdjust="spacingAndGlyphs">5%</text>
<text x="212.20" y="197.62" font-size="7.00" fill="#262626" textLength="157.0" lengthAdjust="spacingAndGlyphs">Abundance of reporter reads (relative to endogenous)</text>
<rect x="461.30" y="57.20" width="46.60" height="98.30" fill="#e0e2f2" />
<rect x="461.30" y="166.60" width="46.60" height="34.70" fill="#fde7df" />
<rect x="461.30" y="230.60" width="46.60" height="103.10" fill="#e0e2f2" />
<rect x="461.30" y="346.70" width="46.60" height="28.50" fill="#fde7df" />
<rect x="510.60" y="57.20" width="47.50" height="98.30" fill="#e0e2f2" />
<rect x="510.60" y="166.60" width="47.50" height="34.70" fill="#fde7df" />
<rect x="510.60" y="230.60" width="47.50" height="103.10" fill="#e0e2f2" />
<rect x="510.60" y="346.70" width="47.50" height="28.50" fill="#fde7df" />
<rect x="561.30" y="57.20" width="47.30" height="98.30" fill="#e0e2f2" />
<rect x="561.30" y="166.60" width="47.30" height="34.70" fill="#fde7df" />
<rect x="561.30" y="230.60" width="47.30" height="103.10" fill="#e0e2f2" />
<rect x="561.30" y="346.70" width="47.30" height="28.50" fill="#fde7df" />
<rect x="611.60" y="57.20" width="47.70" height="98.30" fill="#e0e2f2" />
<rect x="611.60" y="166.60" width="47.70" height="34.70" fill="#fde7df" />
<rect x="611.60" y="230.60" width="47.70" height="103.10" fill="#e0e2f2" />
<rect x="611.60" y="346.70" width="47.70" height="28.50" fill="#fde7df" />
<text x="430.60" y="8.39" font-size="12.19" fill="#111" font-weight="bold" textLength="7.023984375" lengthAdjust="spacingAndGlyphs">b</text>
<circle cx="513.50" cy="26.50" r="2.20" fill="#2161a6"/>
<text x="519.80" y="28.90" font-size="6.68" fill="#262626" textLength="63.4" lengthAdjust="spacingAndGlyphs">Poly(A) + m<tspan font-size="3.78" dy="-1.6">1</tspan><tspan dy="1.6">Ψ</tspan>Cm<tspan font-size="3.78" dy="-1.6">1</tspan><tspan dy="1.6">Ψ</tspan>AG</text>
<circle cx="596.50" cy="21.80" r="2.20" fill="#9dbbd9"/>
<circle cx="596.50" cy="28.60" r="2.20" fill="#58b66e"/>
<text x="603.30" y="29.50" font-size="6.68" fill="#262626" textLength="20.9" lengthAdjust="spacingAndGlyphs">Poly(A)</text>
<text x="479.60" y="44.62" font-size="7.00" fill="#262626" textLength="9.6" lengthAdjust="spacingAndGlyphs">0 h</text>
<line x1="466.00" y1="46.50" x2="503.40" y2="46.50" stroke="#333" stroke-width="1.2" />
<text x="528.40" y="44.62" font-size="7.00" fill="#262626" textLength="13.0" lengthAdjust="spacingAndGlyphs">12 h</text>
<line x1="515.00" y1="46.50" x2="553.90" y2="46.50" stroke="#333" stroke-width="1.2" />
<text x="580.40" y="44.62" font-size="7.00" fill="#262626" textLength="13.0" lengthAdjust="spacingAndGlyphs">24 h</text>
<line x1="569.10" y1="46.50" x2="606.90" y2="46.50" stroke="#333" stroke-width="1.2" />
<text x="628.80" y="44.62" font-size="7.00" fill="#262626" textLength="13.0" lengthAdjust="spacingAndGlyphs">36 h</text>
<line x1="616.10" y1="46.50" x2="653.30" y2="46.50" stroke="#333" stroke-width="1.2" />
<text x="478.10" y="54.58" font-size="6.89" fill="#262626" textLength="12.6" lengthAdjust="spacingAndGlyphs">RNA</text>
<text x="522.90" y="54.62" font-size="7.00" fill="#262626" text-anchor="middle" textLength="4.766437499999999" lengthAdjust="spacingAndGlyphs">C</text>
<text x="574.60" y="54.62" font-size="7.00" fill="#262626" text-anchor="middle" textLength="4.766437499999999" lengthAdjust="spacingAndGlyphs">C</text>
<text x="624.60" y="54.62" font-size="7.00" fill="#262626" text-anchor="middle" textLength="4.766437499999999" lengthAdjust="spacingAndGlyphs">C</text>
<text x="545.90" y="54.62" font-size="7.00" fill="#262626" text-anchor="middle" textLength="5.49759375" lengthAdjust="spacingAndGlyphs">M</text>
<text x="596.50" y="54.62" font-size="7.00" fill="#262626" text-anchor="middle" textLength="5.49759375" lengthAdjust="spacingAndGlyphs">M</text>
<text x="646.70" y="54.62" font-size="7.00" fill="#262626" text-anchor="middle" textLength="5.49759375" lengthAdjust="spacingAndGlyphs">M</text>
<line x1="659.50" y1="39.90" x2="659.50" y2="56.20" stroke="#262626" stroke-width="0.9" />
<text x="661.10" y="44.82" font-size="7.00" fill="#262626" textLength="15.0" lengthAdjust="spacingAndGlyphs">Time</text>
<text x="661.10" y="54.62" font-size="7.00" fill="#262626" textLength="24.5" lengthAdjust="spacingAndGlyphs">Fraction</text>
<text x="0" y="2.44" font-size="6.78" fill="#262626" text-anchor="middle" textLength="40.2" lengthAdjust="spacingAndGlyphs" transform="translate(435.30 129.60) rotate(-90)">Poly(A) length</text>
<text x="0" y="2.44" font-size="6.78" fill="#262626" text-anchor="middle" textLength="40.2" lengthAdjust="spacingAndGlyphs" transform="translate(435.30 303.00) rotate(-90)">Poly(A) length</text>
<line x1="460.50" y1="57.20" x2="460.50" y2="201.50" stroke="#444" stroke-width="0.8" />
<line x1="457.30" y1="194.50" x2="460.90" y2="194.50" stroke="#444" stroke-width="0.7" />
<text x="454.60" y="197.42" font-size="7.00" fill="#333" text-anchor="end" textLength="3.6702187499999996" lengthAdjust="spacingAndGlyphs">0</text>
<line x1="457.30" y1="157.50" x2="460.90" y2="157.50" stroke="#444" stroke-width="0.7" />
<text x="454.60" y="160.02" font-size="7.00" fill="#333" text-anchor="end" textLength="11.01065625" lengthAdjust="spacingAndGlyphs">100</text>
<line x1="457.30" y1="120.50" x2="460.90" y2="120.50" stroke="#444" stroke-width="0.7" />
<text x="454.60" y="122.62" font-size="7.00" fill="#333" text-anchor="end" textLength="11.01065625" lengthAdjust="spacingAndGlyphs">200</text>
<line x1="457.30" y1="82.50" x2="460.90" y2="82.50" stroke="#444" stroke-width="0.7" />
<text x="454.60" y="85.22" font-size="7.00" fill="#333" text-anchor="end" textLength="11.01065625" lengthAdjust="spacingAndGlyphs">300</text>
<line x1="460.50" y1="230.60" x2="460.50" y2="375.40" stroke="#444" stroke-width="0.8" />
<line x1="457.30" y1="368.50" x2="460.90" y2="368.50" stroke="#444" stroke-width="0.7" />
<text x="454.60" y="370.92" font-size="7.00" fill="#333" text-anchor="end" textLength="3.6702187499999996" lengthAdjust="spacingAndGlyphs">0</text>
<line x1="457.30" y1="324.50" x2="460.90" y2="324.50" stroke="#444" stroke-width="0.7" />
<text x="454.60" y="327.32" font-size="7.00" fill="#333" text-anchor="end" textLength="11.01065625" lengthAdjust="spacingAndGlyphs">100</text>
<line x1="457.30" y1="281.50" x2="460.90" y2="281.50" stroke="#444" stroke-width="0.7" />
<text x="454.60" y="283.72" font-size="7.00" fill="#333" text-anchor="end" textLength="11.01065625" lengthAdjust="spacingAndGlyphs">200</text>
<line x1="457.30" y1="237.50" x2="460.90" y2="237.50" stroke="#444" stroke-width="0.7" />
<text x="454.60" y="240.12" font-size="7.00" fill="#333" text-anchor="end" textLength="11.01065625" lengthAdjust="spacingAndGlyphs">300</text>
<line x1="510.50" y1="57.20" x2="510.50" y2="201.50" stroke="#444" stroke-width="0.8" />
<line x1="510.50" y1="230.60" x2="510.50" y2="375.40" stroke="#444" stroke-width="0.8" />
<line x1="560.50" y1="57.20" x2="560.50" y2="201.50" stroke="#444" stroke-width="0.8" />
<line x1="560.50" y1="230.60" x2="560.50" y2="375.40" stroke="#444" stroke-width="0.8" />
<line x1="611.50" y1="57.20" x2="611.50" y2="201.50" stroke="#444" stroke-width="0.8" />
<line x1="611.50" y1="230.60" x2="611.50" y2="375.40" stroke="#444" stroke-width="0.8" />
<line x1="460.90" y1="201.50" x2="507.90" y2="201.50" stroke="#555" stroke-width="0.8" />
<line x1="460.90" y1="375.50" x2="507.90" y2="375.50" stroke="#555" stroke-width="0.8" />
<line x1="510.20" y1="201.50" x2="558.10" y2="201.50" stroke="#555" stroke-width="0.8" />
<line x1="510.20" y1="375.50" x2="558.10" y2="375.50" stroke="#555" stroke-width="0.8" />
<line x1="560.90" y1="201.50" x2="608.60" y2="201.50" stroke="#555" stroke-width="0.8" />
<line x1="560.90" y1="375.50" x2="608.60" y2="375.50" stroke="#555" stroke-width="0.8" />
<line x1="611.20" y1="201.50" x2="659.30" y2="201.50" stroke="#555" stroke-width="0.8" />
<line x1="611.20" y1="375.50" x2="659.30" y2="375.50" stroke="#555" stroke-width="0.8" />
<path d="M484.20,62.40 L486.20,62.40 C486.23,67.33 486.32,84.07 486.40,92.00 C486.48,99.93 486.47,103.88 486.70,110.00 C486.93,116.12 487.47,123.70 487.80,128.70 C488.13,133.70 488.27,136.48 488.70,140.00 C489.13,143.52 489.25,147.03 490.40,149.80 C491.55,152.57 494.17,154.60 495.60,156.60 C497.03,158.60 498.15,160.07 499.00,161.80 C499.85,163.53 501.27,165.28 500.70,167.00 C500.13,168.72 497.60,170.38 495.60,172.10 C493.60,173.82 490.23,175.58 488.70,177.30 C487.17,179.02 486.95,179.45 486.40,182.40 C485.85,185.35 485.57,192.90 485.40,195.00 L484.20,195.00 Z" fill="#58b66e" />
<path d="M484.20,62.40 L482.20,62.40 C482.17,67.33 482.08,84.07 482.00,92.00 C481.92,99.93 481.97,103.88 481.70,110.00 C481.43,116.12 480.95,123.70 480.40,128.70 C479.85,133.70 479.77,136.48 478.40,140.00 C477.03,143.52 473.82,147.03 472.20,149.80 C470.58,152.57 469.52,154.60 468.70,156.60 C467.88,158.60 467.30,160.07 467.30,161.80 C467.30,163.53 467.72,165.28 468.70,167.00 C469.68,168.72 471.28,170.38 473.20,172.10 C475.12,173.82 478.70,175.58 480.20,177.30 C481.70,179.02 481.77,179.45 482.20,182.40 C482.63,185.35 482.70,192.90 482.80,195.00 L484.20,195.00 Z" fill="#2161a6" />
<path d="M522.60,66.00 L525.20,66.00 C525.22,71.67 525.23,92.67 525.30,100.00 C525.37,107.33 525.38,105.22 525.60,110.00 C525.82,114.78 526.10,123.73 526.60,128.70 C527.10,133.67 527.85,136.42 528.60,139.80 C529.35,143.18 530.32,146.05 531.10,149.00 C531.88,151.95 532.88,154.50 533.30,157.50 C533.72,160.50 534.12,163.70 533.60,167.00 C533.08,170.30 531.17,174.73 530.20,177.30 C529.23,179.87 528.48,180.28 527.80,182.40 C527.12,184.52 526.72,188.23 526.10,190.00 C525.48,191.77 524.55,192.17 524.10,193.00 C523.65,193.83 523.52,194.67 523.40,195.00 L522.60,195.00 Z" fill="#58b66e" />
<path d="M522.60,66.00 L520.20,66.00 C520.18,71.67 520.08,89.67 520.10,100.00 C520.12,110.33 520.28,121.33 520.30,128.00 C520.32,134.67 520.23,136.33 520.20,140.00 C520.17,143.67 520.12,145.83 520.10,150.00 C520.08,154.17 520.02,160.00 520.10,165.00 C520.18,170.00 520.35,175.00 520.60,180.00 C520.85,185.00 521.43,192.50 521.60,195.00 L522.60,195.00 Z" fill="#58b66e" />
<path d="M522.60,143.00 L522.10,143.00 C521.52,143.83 519.85,146.33 518.60,148.00 C517.35,149.67 515.60,151.33 514.60,153.00 C513.60,154.67 512.60,156.33 512.60,158.00 C512.60,159.67 513.52,161.50 514.60,163.00 C515.68,164.50 517.85,165.67 519.10,167.00 C520.35,168.33 521.60,170.33 522.10,171.00 L522.60,171.00 Z" fill="#2161a6" />
<path d="M544.60,66.00 L547.20,66.00 C547.22,71.67 547.23,92.67 547.30,100.00 C547.37,107.33 547.42,105.22 547.60,110.00 C547.78,114.78 547.98,123.73 548.40,128.70 C548.82,133.67 549.57,136.42 550.10,139.80 C550.63,143.18 551.18,146.05 551.60,149.00 C552.02,151.95 552.52,154.67 552.60,157.50 C552.68,160.33 552.38,163.08 552.10,166.00 C551.82,168.92 551.32,172.17 550.90,175.00 C550.48,177.83 550.03,180.50 549.60,183.00 C549.17,185.50 548.88,188.33 548.30,190.00 C547.72,191.67 546.58,192.17 546.10,193.00 C545.62,193.83 545.52,194.67 545.40,195.00 L544.60,195.00 Z" fill="#58b66e" />
<path d="M544.60,66.00 L542.20,66.00 C542.20,71.67 542.17,87.67 542.20,100.00 C542.23,112.33 542.33,131.67 542.40,140.00 C542.47,148.33 542.57,147.00 542.60,150.00 C542.63,153.00 542.57,154.67 542.60,158.00 C542.63,161.33 542.63,163.83 542.80,170.00 C542.97,176.17 543.47,190.83 543.60,195.00 L544.60,195.00 Z" fill="#58b66e" />
<path d="M544.60,150.00 L544.10,150.00 C543.60,150.50 541.93,151.83 541.10,153.00 C540.27,154.17 539.35,155.67 539.10,157.00 C538.85,158.33 539.18,159.67 539.60,161.00 C540.02,162.33 540.93,163.67 541.60,165.00 C542.27,166.33 543.15,168.00 543.60,169.00 C544.05,170.00 544.18,170.67 544.30,171.00 L544.60,171.00 Z" fill="#2161a6" />
<circle cx="574.83" cy="90.43" r="0.80" fill="#58b66e"/>
<circle cx="574.29" cy="115.91" r="0.80" fill="#58b66e"/>
<circle cx="574.98" cy="93.42" r="0.80" fill="#58b66e"/>
<circle cx="574.56" cy="75.97" r="0.80" fill="#58b66e"/>
<circle cx="576.14" cy="100.01" r="0.80" fill="#58b66e"/>
<circle cx="573.47" cy="71.08" r="0.80" fill="#58b66e"/>
<circle cx="576.13" cy="70.90" r="0.80" fill="#58b66e"/>
<circle cx="571.87" cy="103.45" r="0.80" fill="#58b66e"/>
<circle cx="577.46" cy="119.04" r="0.80" fill="#58b66e"/>
<circle cx="575.15" cy="101.31" r="0.80" fill="#58b66e"/>
<circle cx="571.93" cy="74.50" r="0.80" fill="#58b66e"/>
<circle cx="572.06" cy="94.53" r="0.80" fill="#58b66e"/>
<circle cx="573.13" cy="76.27" r="0.80" fill="#58b66e"/>
<circle cx="574.31" cy="67.62" r="0.80" fill="#58b66e"/>
<circle cx="576.38" cy="89.79" r="0.80" fill="#58b66e"/>
<circle cx="575.28" cy="94.03" r="0.80" fill="#58b66e"/>
<circle cx="575.40" cy="92.99" r="0.80" fill="#58b66e"/>
<circle cx="573.28" cy="90.70" r="0.80" fill="#58b66e"/>
<circle cx="577.67" cy="119.87" r="0.80" fill="#58b66e"/>
<circle cx="575.76" cy="111.37" r="0.80" fill="#58b66e"/>
<circle cx="573.04" cy="83.02" r="0.80" fill="#58b66e"/>
<circle cx="572.19" cy="81.61" r="0.80" fill="#58b66e"/>
<circle cx="573.91" cy="107.38" r="0.80" fill="#58b66e"/>
<circle cx="573.81" cy="111.72" r="0.80" fill="#58b66e"/>
<circle cx="576.69" cy="117.73" r="0.80" fill="#58b66e"/>
<circle cx="572.99" cy="66.03" r="0.80" fill="#58b66e"/>
<circle cx="574.31" cy="115.15" r="0.80" fill="#58b66e"/>
<circle cx="573.85" cy="118.94" r="0.80" fill="#58b66e"/>
<circle cx="575.18" cy="69.94" r="0.80" fill="#58b66e"/>
<circle cx="573.14" cy="108.04" r="0.80" fill="#58b66e"/>
<circle cx="573.62" cy="70.71" r="0.80" fill="#58b66e"/>
<circle cx="576.13" cy="118.06" r="0.80" fill="#58b66e"/>
<circle cx="573.16" cy="72.37" r="0.80" fill="#58b66e"/>
<circle cx="572.18" cy="71.46" r="0.80" fill="#58b66e"/>
<circle cx="572.58" cy="109.04" r="0.80" fill="#58b66e"/>
<circle cx="574.21" cy="96.20" r="0.80" fill="#58b66e"/>
<circle cx="575.73" cy="76.30" r="0.80" fill="#58b66e"/>
<circle cx="575.26" cy="73.07" r="0.80" fill="#58b66e"/>
<circle cx="574.08" cy="72.29" r="0.80" fill="#58b66e"/>
<circle cx="573.27" cy="77.49" r="0.80" fill="#58b66e"/>
<circle cx="576.42" cy="118.43" r="0.80" fill="#58b66e"/>
<circle cx="576.58" cy="82.42" r="0.80" fill="#58b66e"/>
<circle cx="573.94" cy="77.38" r="0.80" fill="#58b66e"/>
<circle cx="575.36" cy="112.14" r="0.80" fill="#58b66e"/>
<circle cx="577.08" cy="71.42" r="0.80" fill="#58b66e"/>
<circle cx="573.21" cy="77.52" r="0.80" fill="#58b66e"/>
<circle cx="573.49" cy="107.73" r="0.80" fill="#58b66e"/>
<circle cx="572.20" cy="82.00" r="0.80" fill="#58b66e"/>
<circle cx="574.93" cy="70.87" r="0.80" fill="#58b66e"/>
<circle cx="575.04" cy="79.12" r="0.80" fill="#58b66e"/>
<circle cx="574.25" cy="86.07" r="0.80" fill="#58b66e"/>
<circle cx="574.40" cy="117.79" r="0.80" fill="#58b66e"/>
<circle cx="576.54" cy="97.03" r="0.80" fill="#58b66e"/>
<circle cx="572.66" cy="75.87" r="0.80" fill="#58b66e"/>
<circle cx="576.47" cy="115.05" r="0.80" fill="#58b66e"/>
<circle cx="572.84" cy="79.47" r="0.80" fill="#58b66e"/>
<circle cx="577.07" cy="105.93" r="0.80" fill="#58b66e"/>
<circle cx="576.90" cy="76.62" r="0.80" fill="#58b66e"/>
<circle cx="575.14" cy="113.64" r="0.80" fill="#58b66e"/>
<circle cx="572.33" cy="88.76" r="0.80" fill="#58b66e"/>
<circle cx="576.92" cy="68.09" r="0.80" fill="#58b66e"/>
<circle cx="575.59" cy="78.87" r="0.80" fill="#58b66e"/>
<circle cx="576.24" cy="79.88" r="0.80" fill="#58b66e"/>
<circle cx="573.35" cy="98.21" r="0.80" fill="#58b66e"/>
<circle cx="575.67" cy="75.47" r="0.80" fill="#58b66e"/>
<circle cx="573.08" cy="69.71" r="0.80" fill="#58b66e"/>
<circle cx="576.46" cy="96.21" r="0.80" fill="#58b66e"/>
<circle cx="573.27" cy="99.17" r="0.80" fill="#58b66e"/>
<circle cx="572.66" cy="115.54" r="0.80" fill="#58b66e"/>
<circle cx="573.30" cy="66.90" r="0.80" fill="#58b66e"/>
<path d="M574.50,112.00 L575.30,112.00 C575.70,113.33 577.12,116.17 577.70,120.00 C578.28,123.83 578.50,130.00 578.80,135.00 C579.10,140.00 579.38,145.00 579.50,150.00 C579.62,155.00 579.58,160.00 579.50,165.00 C579.42,170.00 579.30,175.83 579.00,180.00 C578.70,184.17 578.28,187.50 577.70,190.00 C577.12,192.50 575.87,194.17 575.50,195.00 L574.50,195.00 Z" fill="#58b66e" />
<path d="M574.50,112.00 L573.70,112.00 C573.37,113.33 572.20,116.17 571.70,120.00 C571.20,123.83 570.95,130.00 570.70,135.00 C570.45,140.00 570.28,145.00 570.20,150.00 C570.12,155.00 570.12,160.00 570.20,165.00 C570.28,170.00 570.43,175.83 570.70,180.00 C570.97,184.17 571.33,187.50 571.80,190.00 C572.27,192.50 573.22,194.17 573.50,195.00 L574.50,195.00 Z" fill="#58b66e" />
<circle cx="568.75" cy="159.64" r="0.80" fill="#2161a6"/>
<circle cx="573.45" cy="162.33" r="0.80" fill="#2161a6"/>
<circle cx="572.96" cy="153.15" r="0.80" fill="#2161a6"/>
<circle cx="569.04" cy="156.84" r="0.80" fill="#2161a6"/>
<circle cx="570.23" cy="162.67" r="0.80" fill="#2161a6"/>
<circle cx="568.93" cy="160.81" r="0.80" fill="#2161a6"/>
<circle cx="572.10" cy="155.03" r="0.80" fill="#2161a6"/>
<circle cx="569.41" cy="155.27" r="0.80" fill="#2161a6"/>
<circle cx="570.74" cy="153.82" r="0.80" fill="#2161a6"/>
<circle cx="571.24" cy="154.04" r="0.80" fill="#2161a6"/>
<circle cx="571.52" cy="157.72" r="0.80" fill="#2161a6"/>
<circle cx="574.40" cy="164.79" r="0.80" fill="#2161a6"/>
<circle cx="570.28" cy="153.85" r="0.80" fill="#2161a6"/>
<circle cx="573.69" cy="160.12" r="0.80" fill="#2161a6"/>
<circle cx="570.59" cy="166.82" r="0.80" fill="#2161a6"/>
<circle cx="572.33" cy="154.58" r="0.80" fill="#2161a6"/>
<path d="M594.80,66.00 L597.30,66.00 C597.38,68.33 597.55,76.00 597.80,80.00 C598.05,84.00 598.47,86.67 598.80,90.00 C599.13,93.33 599.47,96.67 599.80,100.00 C600.13,103.33 600.47,106.33 600.80,110.00 C601.13,113.67 601.30,117.12 601.80,122.00 C602.30,126.88 603.38,134.68 603.80,139.30 C604.22,143.92 604.38,145.68 604.30,149.70 C604.22,153.72 603.72,159.18 603.30,163.40 C602.88,167.62 602.38,171.73 601.80,175.00 C601.22,178.27 600.38,180.50 599.80,183.00 C599.22,185.50 598.97,188.00 598.30,190.00 C597.63,192.00 596.22,194.17 595.80,195.00 L594.80,195.00 Z" fill="#58b66e" />
<path d="M594.80,66.00 L592.40,66.00 C592.38,73.33 592.30,99.67 592.30,110.00 C592.30,120.33 592.35,121.33 592.40,128.00 C592.45,134.67 592.53,143.00 592.60,150.00 C592.67,157.00 592.60,162.50 592.80,170.00 C593.00,177.50 593.63,190.83 593.80,195.00 L594.80,195.00 Z" fill="#58b66e" />
<path d="M594.80,150.00 L594.30,150.00 C593.80,150.50 592.38,151.83 591.30,153.00 C590.22,154.17 588.55,155.67 587.80,157.00 C587.05,158.33 586.63,159.67 586.80,161.00 C586.97,162.33 587.88,163.83 588.80,165.00 C589.72,166.17 591.38,167.00 592.30,168.00 C593.22,169.00 593.97,170.50 594.30,171.00 L594.80,171.00 Z" fill="#2161a6" />
<circle cx="624.39" cy="83.87" r="0.80" fill="#58b66e"/>
<circle cx="625.37" cy="113.20" r="0.80" fill="#58b66e"/>
<circle cx="621.97" cy="78.81" r="0.80" fill="#58b66e"/>
<circle cx="621.95" cy="76.15" r="0.80" fill="#58b66e"/>
<circle cx="621.29" cy="116.65" r="0.80" fill="#58b66e"/>
<circle cx="621.82" cy="102.66" r="0.80" fill="#58b66e"/>
<circle cx="623.03" cy="86.33" r="0.80" fill="#58b66e"/>
<circle cx="624.03" cy="123.80" r="0.80" fill="#58b66e"/>
<circle cx="622.23" cy="67.00" r="0.80" fill="#58b66e"/>
<circle cx="625.36" cy="76.12" r="0.80" fill="#58b66e"/>
<circle cx="625.17" cy="121.87" r="0.80" fill="#58b66e"/>
<circle cx="624.82" cy="123.02" r="0.80" fill="#58b66e"/>
<circle cx="625.15" cy="131.50" r="0.80" fill="#58b66e"/>
<circle cx="625.28" cy="83.71" r="0.80" fill="#58b66e"/>
<circle cx="624.80" cy="99.59" r="0.80" fill="#58b66e"/>
<circle cx="623.01" cy="104.93" r="0.80" fill="#58b66e"/>
<circle cx="623.02" cy="91.13" r="0.80" fill="#58b66e"/>
<circle cx="621.33" cy="87.65" r="0.80" fill="#58b66e"/>
<circle cx="625.13" cy="122.56" r="0.80" fill="#58b66e"/>
<circle cx="624.54" cy="134.01" r="0.80" fill="#58b66e"/>
<circle cx="624.78" cy="104.24" r="0.80" fill="#58b66e"/>
<circle cx="624.33" cy="75.30" r="0.80" fill="#58b66e"/>
<circle cx="621.63" cy="96.59" r="0.80" fill="#58b66e"/>
<circle cx="623.52" cy="79.98" r="0.80" fill="#58b66e"/>
<circle cx="623.18" cy="83.48" r="0.80" fill="#58b66e"/>
<circle cx="622.82" cy="107.78" r="0.80" fill="#58b66e"/>
<circle cx="623.35" cy="75.02" r="0.80" fill="#58b66e"/>
<circle cx="621.99" cy="82.25" r="0.80" fill="#58b66e"/>
<circle cx="622.69" cy="79.42" r="0.80" fill="#58b66e"/>
<circle cx="624.19" cy="71.06" r="0.80" fill="#58b66e"/>
<circle cx="622.74" cy="131.80" r="0.80" fill="#58b66e"/>
<circle cx="625.86" cy="115.60" r="0.80" fill="#58b66e"/>
<circle cx="621.53" cy="68.98" r="0.80" fill="#58b66e"/>
<circle cx="625.36" cy="121.62" r="0.80" fill="#58b66e"/>
<circle cx="621.49" cy="110.09" r="0.80" fill="#58b66e"/>
<circle cx="625.41" cy="94.53" r="0.80" fill="#58b66e"/>
<circle cx="625.18" cy="127.15" r="0.80" fill="#58b66e"/>
<circle cx="625.28" cy="80.01" r="0.80" fill="#58b66e"/>
<circle cx="624.58" cy="91.86" r="0.80" fill="#58b66e"/>
<circle cx="625.89" cy="75.45" r="0.80" fill="#58b66e"/>
<circle cx="624.64" cy="107.64" r="0.80" fill="#58b66e"/>
<circle cx="624.03" cy="80.61" r="0.80" fill="#58b66e"/>
<circle cx="623.91" cy="106.08" r="0.80" fill="#58b66e"/>
<circle cx="624.64" cy="90.80" r="0.80" fill="#58b66e"/>
<circle cx="622.29" cy="89.55" r="0.80" fill="#58b66e"/>
<circle cx="624.38" cy="77.35" r="0.80" fill="#58b66e"/>
<circle cx="621.95" cy="73.75" r="0.80" fill="#58b66e"/>
<circle cx="624.15" cy="70.77" r="0.80" fill="#58b66e"/>
<circle cx="623.64" cy="104.37" r="0.80" fill="#58b66e"/>
<circle cx="623.08" cy="68.68" r="0.80" fill="#58b66e"/>
<circle cx="621.19" cy="89.67" r="0.80" fill="#58b66e"/>
<circle cx="625.99" cy="66.21" r="0.80" fill="#58b66e"/>
<circle cx="622.35" cy="74.38" r="0.80" fill="#58b66e"/>
<circle cx="623.92" cy="84.56" r="0.80" fill="#58b66e"/>
<circle cx="623.24" cy="71.34" r="0.80" fill="#58b66e"/>
<circle cx="625.22" cy="91.30" r="0.80" fill="#58b66e"/>
<circle cx="622.54" cy="66.39" r="0.80" fill="#58b66e"/>
<circle cx="625.99" cy="100.26" r="0.80" fill="#58b66e"/>
<circle cx="623.26" cy="101.65" r="0.80" fill="#58b66e"/>
<circle cx="622.25" cy="112.20" r="0.80" fill="#58b66e"/>
<circle cx="623.41" cy="68.19" r="0.80" fill="#58b66e"/>
<circle cx="624.81" cy="128.82" r="0.80" fill="#58b66e"/>
<circle cx="624.39" cy="83.82" r="0.80" fill="#58b66e"/>
<circle cx="621.99" cy="124.59" r="0.80" fill="#58b66e"/>
<circle cx="622.60" cy="106.57" r="0.80" fill="#58b66e"/>
<circle cx="622.26" cy="82.85" r="0.80" fill="#58b66e"/>
<circle cx="622.61" cy="80.07" r="0.80" fill="#58b66e"/>
<circle cx="622.87" cy="68.63" r="0.80" fill="#58b66e"/>
<circle cx="624.76" cy="71.99" r="0.80" fill="#58b66e"/>
<circle cx="620.63" cy="107.39" r="0.80" fill="#58b66e"/>
<path d="M623.40,118.00 L624.40,118.00 C624.65,119.17 625.40,123.00 625.90,125.00 C626.40,127.00 626.82,127.50 627.40,130.00 C627.98,132.50 628.73,136.67 629.40,140.00 C630.07,143.33 630.82,146.67 631.40,150.00 C631.98,153.33 632.90,156.67 632.90,160.00 C632.90,163.33 632.15,166.67 631.40,170.00 C630.65,173.33 629.32,176.67 628.40,180.00 C627.48,183.33 626.57,187.50 625.90,190.00 C625.23,192.50 624.65,194.17 624.40,195.00 L623.40,195.00 Z" fill="#58b66e" />
<path d="M623.40,118.00 L622.40,118.00 C622.23,119.17 621.60,121.33 621.40,125.00 C621.20,128.67 621.28,134.17 621.20,140.00 C621.12,145.83 620.87,153.33 620.90,160.00 C620.93,166.67 621.12,174.17 621.40,180.00 C621.68,185.83 622.40,192.50 622.60,195.00 L623.40,195.00 Z" fill="#58b66e" />
<path d="M623.40,148.00 L622.90,148.00 C622.40,148.67 620.90,150.67 619.90,152.00 C618.90,153.33 617.57,154.67 616.90,156.00 C616.23,157.33 615.82,158.67 615.90,160.00 C615.98,161.33 616.48,162.67 617.40,164.00 C618.32,165.33 620.48,166.83 621.40,168.00 C622.32,169.17 622.65,170.50 622.90,171.00 L623.40,171.00 Z" fill="#2161a6" />
<path d="M645.20,66.00 L647.70,66.00 C647.87,68.33 648.37,76.00 648.70,80.00 C649.03,84.00 649.28,86.67 649.70,90.00 C650.12,93.33 650.87,96.67 651.20,100.00 C651.53,103.33 651.45,106.67 651.70,110.00 C651.95,113.33 652.37,116.67 652.70,120.00 C653.03,123.33 653.28,126.67 653.70,130.00 C654.12,133.33 654.95,136.67 655.20,140.00 C655.45,143.33 655.27,146.67 655.20,150.00 C655.13,153.33 655.30,156.67 654.80,160.00 C654.30,163.33 653.13,166.67 652.20,170.00 C651.27,173.33 650.03,176.67 649.20,180.00 C648.37,183.33 647.70,187.50 647.20,190.00 C646.70,192.50 646.37,194.17 646.20,195.00 L645.20,195.00 Z" fill="#58b66e" />
<path d="M645.20,66.00 L642.80,66.00 C642.78,73.33 642.70,99.67 642.70,110.00 C642.70,120.33 642.75,121.33 642.80,128.00 C642.85,134.67 642.93,143.00 643.00,150.00 C643.07,157.00 643.00,162.50 643.20,170.00 C643.40,177.50 644.03,190.83 644.20,195.00 L645.20,195.00 Z" fill="#58b66e" />
<circle cx="643.14" cy="153.39" r="0.80" fill="#2161a6"/>
<circle cx="640.89" cy="160.48" r="0.80" fill="#2161a6"/>
<circle cx="644.09" cy="155.52" r="0.80" fill="#2161a6"/>
<circle cx="642.58" cy="161.54" r="0.80" fill="#2161a6"/>
<circle cx="642.03" cy="155.94" r="0.80" fill="#2161a6"/>
<circle cx="640.97" cy="157.16" r="0.80" fill="#2161a6"/>
<circle cx="644.52" cy="153.54" r="0.80" fill="#2161a6"/>
<circle cx="644.22" cy="163.72" r="0.80" fill="#2161a6"/>
<circle cx="641.78" cy="155.39" r="0.80" fill="#2161a6"/>
<circle cx="644.49" cy="160.21" r="0.80" fill="#2161a6"/>
<line x1="461.50" y1="161.50" x2="510.10" y2="161.50" stroke="#111" stroke-width="1.3" stroke-dasharray="5.2 6.0"/>
<line x1="510.80" y1="161.50" x2="560.30" y2="161.50" stroke="#111" stroke-width="1.3" stroke-dasharray="5.2 6.0"/>
<line x1="561.50" y1="161.50" x2="610.80" y2="161.50" stroke="#111" stroke-width="1.3" stroke-dasharray="5.2 6.0"/>
<line x1="611.80" y1="161.50" x2="661.50" y2="161.50" stroke="#111" stroke-width="1.3" stroke-dasharray="5.2 6.0"/>
<text x="520.00" y="62.42" font-size="7.00" fill="#262626" textLength="28.438781249999998" lengthAdjust="spacingAndGlyphs"><tspan font-style="italic">P</tspan> = 0.454</text>
<line x1="522.20" y1="65.50" x2="545.70" y2="65.50" stroke="#1a1a1a" stroke-width="0.95" />
<text x="564.40" y="62.42" font-size="7.00" fill="#262626" textLength="40.626238125" lengthAdjust="spacingAndGlyphs"><tspan font-style="italic">P</tspan> = 4.1 × 10<tspan font-size="4.34" dy="-4.09">−6</tspan></text>
<line x1="573.60" y1="65.50" x2="596.10" y2="65.50" stroke="#1a1a1a" stroke-width="0.95" />
<text x="612.40" y="62.42" font-size="7.00" fill="#262626" textLength="46.57199249999999" lengthAdjust="spacingAndGlyphs"><tspan font-style="italic">P</tspan> = 1.74 × 10<tspan font-size="4.34" dy="-4.09">−18</tspan></text>
<line x1="623.70" y1="65.50" x2="646.20" y2="65.50" stroke="#1a1a1a" stroke-width="0.95" />
<rect x="485.65" y="108.95" width="20.60" height="6.70" rx="1.2" fill="#fff" stroke="#3a6cb8" stroke-width="0.75"/>
<text x="495.95" y="114.55" font-size="6.25" fill="#3a6cb8" text-anchor="middle" textLength="17.70000000000001" lengthAdjust="spacingAndGlyphs">29.6%</text>
<rect x="513.05" y="108.95" width="20.60" height="6.70" rx="1.2" fill="#fff" stroke="#3a6cb8" stroke-width="0.75"/>
<text x="523.35" y="114.55" font-size="6.25" fill="#3a6cb8" text-anchor="middle" textLength="17.699999999999953" lengthAdjust="spacingAndGlyphs">38.7%</text>
<rect x="535.25" y="108.95" width="21.30" height="6.70" rx="1.2" fill="#fff" stroke="#3a6cb8" stroke-width="0.75"/>
<text x="545.90" y="114.55" font-size="6.25" fill="#3a6cb8" text-anchor="middle" textLength="18.4" lengthAdjust="spacingAndGlyphs">42.5%</text>
<rect x="564.45" y="108.95" width="21.20" height="6.70" rx="1.2" fill="#fff" stroke="#3a6cb8" stroke-width="0.75"/>
<text x="575.05" y="114.55" font-size="6.25" fill="#3a6cb8" text-anchor="middle" textLength="18.299999999999976" lengthAdjust="spacingAndGlyphs">45.4%</text>
<rect x="587.05" y="108.95" width="20.80" height="6.70" rx="1.2" fill="#fff" stroke="#3a6cb8" stroke-width="0.75"/>
<text x="597.45" y="114.55" font-size="6.25" fill="#3a6cb8" text-anchor="middle" textLength="17.9" lengthAdjust="spacingAndGlyphs">61.1%</text>
<rect x="614.65" y="108.95" width="20.90" height="6.70" rx="1.2" fill="#fff" stroke="#3a6cb8" stroke-width="0.75"/>
<text x="625.10" y="114.55" font-size="6.25" fill="#3a6cb8" text-anchor="middle" textLength="18.00000000000002" lengthAdjust="spacingAndGlyphs">45.8%</text>
<rect x="636.95" y="108.95" width="20.80" height="6.70" rx="1.2" fill="#fff" stroke="#3a6cb8" stroke-width="0.75"/>
<text x="647.35" y="114.55" font-size="6.25" fill="#3a6cb8" text-anchor="middle" textLength="17.9" lengthAdjust="spacingAndGlyphs">65.2%</text>
<rect x="485.85" y="182.55" width="20.80" height="6.70" rx="1.2" fill="#fff" stroke="#e8474a" stroke-width="0.75"/>
<text x="496.25" y="188.15" font-size="6.25" fill="#e8474a" text-anchor="middle" textLength="17.9" lengthAdjust="spacingAndGlyphs">23.3%</text>
<rect x="514.65" y="182.55" width="20.50" height="6.70" rx="1.2" fill="#fff" stroke="#e8474a" stroke-width="0.75"/>
<text x="524.90" y="188.15" font-size="6.25" fill="#e8474a" text-anchor="middle" textLength="17.600000000000044" lengthAdjust="spacingAndGlyphs">28.7%</text>
<rect x="536.55" y="182.55" width="20.50" height="6.70" rx="1.2" fill="#fff" stroke="#e8474a" stroke-width="0.75"/>
<text x="546.80" y="188.15" font-size="6.25" fill="#e8474a" text-anchor="middle" textLength="17.59999999999993" lengthAdjust="spacingAndGlyphs">28.7%</text>
<rect x="563.55" y="182.55" width="21.10" height="6.70" rx="1.2" fill="#fff" stroke="#e8474a" stroke-width="0.75"/>
<text x="574.10" y="188.15" font-size="6.25" fill="#e8474a" text-anchor="middle" textLength="18.199999999999953" lengthAdjust="spacingAndGlyphs">34.5%</text>
<rect x="586.95" y="182.55" width="20.40" height="6.70" rx="1.2" fill="#fff" stroke="#e8474a" stroke-width="0.75"/>
<text x="597.15" y="188.15" font-size="6.25" fill="#e8474a" text-anchor="middle" textLength="17.50000000000002" lengthAdjust="spacingAndGlyphs">22.1%</text>
<rect x="614.65" y="182.55" width="20.50" height="6.70" rx="1.2" fill="#fff" stroke="#e8474a" stroke-width="0.75"/>
<text x="624.90" y="188.15" font-size="6.25" fill="#e8474a" text-anchor="middle" textLength="17.600000000000044" lengthAdjust="spacingAndGlyphs">33.1%</text>
<rect x="636.95" y="182.55" width="20.10" height="6.70" rx="1.2" fill="#fff" stroke="#e8474a" stroke-width="0.75"/>
<text x="647.00" y="188.15" font-size="6.25" fill="#e8474a" text-anchor="middle" textLength="17.199999999999953" lengthAdjust="spacingAndGlyphs">16.0%</text>
<rect x="485.00" y="160.30" width="6.70" height="2.00" fill="#fff" />
<text x="485.00" y="158.51" font-size="6.15" fill="#222" textLength="6.4506875" lengthAdjust="spacingAndGlyphs">89</text>
<rect x="523.60" y="158.80" width="4.40" height="2.00" fill="#fff" />
<text x="522.80" y="157.01" font-size="6.15" fill="#222" textLength="6.4506875" lengthAdjust="spacingAndGlyphs">94</text>
<rect x="545.20" y="157.40" width="4.70" height="2.00" fill="#fff" />
<text x="544.70" y="155.61" font-size="6.15" fill="#222" textLength="6.4506875" lengthAdjust="spacingAndGlyphs">96</text>
<rect x="573.90" y="157.90" width="4.90" height="2.00" fill="#fff" />
<text x="572.70" y="156.11" font-size="6.15" fill="#222" textLength="6.4506875" lengthAdjust="spacingAndGlyphs">95</text>
<rect x="595.80" y="145.90" width="3.90" height="2.00" fill="#fff" />
<text x="594.80" y="144.11" font-size="6.15" fill="#222" textLength="9.67603125" lengthAdjust="spacingAndGlyphs">130</text>
<rect x="624.90" y="158.00" width="3.90" height="2.00" fill="#fff" />
<text x="623.80" y="156.21" font-size="6.15" fill="#222" textLength="6.4506875" lengthAdjust="spacingAndGlyphs">97</text>
<rect x="646.50" y="145.60" width="3.90" height="2.00" fill="#fff" />
<text x="645.40" y="143.81" font-size="6.15" fill="#222" textLength="9.67603125" lengthAdjust="spacingAndGlyphs">130</text>
<line x1="671.50" y1="107.80" x2="671.50" y2="156.10" stroke="#4a74bd" stroke-width="0.9" />
<path d="M669.50,108.90 L671.10,105.30 L672.70,108.90 Z" fill="#3d6bb5"/>
<text x="0" y="2.52" font-size="7.00" fill="#262626" text-anchor="middle" textLength="44.392218750000005" lengthAdjust="spacingAndGlyphs" transform="translate(664.90 131.20) rotate(-90)">Re-adenylation</text>
<line x1="671.50" y1="161.00" x2="671.50" y2="213.10" stroke="#ec4a4d" stroke-width="0.9" />
<path d="M669.50,212.00 L671.10,215.60 L672.70,212.00 Z" fill="#e23b3e"/>
<text x="0" y="2.52" font-size="7.00" fill="#262626" text-anchor="middle" textLength="42.194624999999995" lengthAdjust="spacingAndGlyphs" transform="translate(664.90 186.40) rotate(-90)">Deadenylation</text>
<path d="M484.60,235.70 C484.63,240.58 484.72,256.78 484.80,265.00 C484.88,273.22 484.93,279.50 485.10,285.00 C485.27,290.50 485.37,293.97 485.80,298.00 C486.23,302.03 487.08,305.78 487.70,309.20 C488.32,312.62 488.73,315.73 489.50,318.50 C490.27,321.27 491.22,323.65 492.30,325.80 C493.38,327.95 494.78,329.70 496.00,331.40 C497.22,333.10 498.78,334.62 499.60,336.00 C500.42,337.38 501.20,338.47 500.90,339.70 C500.60,340.93 499.23,342.33 497.80,343.40 C496.37,344.47 494.15,345.18 492.30,346.10 C490.45,347.02 487.85,347.97 486.70,348.90 C485.55,349.83 485.62,350.62 485.40,351.70 C485.18,352.78 485.43,353.02 485.40,355.40 C485.37,357.78 485.33,363.98 485.20,366.00 C485.07,368.02 484.70,367.25 484.60,367.50 L482.60,367.50 C482.50,367.25 482.13,368.02 482.00,366.00 C481.87,363.98 481.83,357.78 481.80,355.40 C481.77,353.02 482.02,352.78 481.80,351.70 C481.58,350.62 481.65,349.83 480.50,348.90 C479.35,347.97 476.75,347.02 474.90,346.10 C473.05,345.18 470.83,344.47 469.40,343.40 C467.97,342.33 466.60,340.93 466.30,339.70 C466.00,338.47 466.78,337.38 467.60,336.00 C468.42,334.62 469.98,333.10 471.20,331.40 C472.42,329.70 473.82,327.95 474.90,325.80 C475.98,323.65 476.93,321.27 477.70,318.50 C478.47,315.73 478.88,312.62 479.50,309.20 C480.12,305.78 480.97,302.03 481.40,298.00 C481.83,293.97 481.93,290.50 482.10,285.00 C482.27,279.50 482.32,273.22 482.40,265.00 C482.48,256.78 482.57,240.58 482.60,235.70 Z" fill="#9dbbd9" />
<path d="M547.10,238.00 C547.35,239.17 548.18,239.67 548.60,245.00 C549.02,250.33 549.27,260.83 549.60,270.00 C549.93,279.17 550.23,291.67 550.60,300.00 C550.97,308.33 551.38,315.00 551.80,320.00 C552.22,325.00 552.73,327.33 553.10,330.00 C553.47,332.67 553.85,334.33 554.00,336.00 C554.15,337.67 554.90,338.33 554.00,340.00 C553.10,341.67 549.75,344.00 548.60,346.00 C547.45,348.00 547.35,351.00 547.10,352.00 L544.10,352.00 C543.85,351.00 543.75,348.00 542.60,346.00 C541.45,344.00 538.10,341.67 537.20,340.00 C536.30,338.33 537.05,337.67 537.20,336.00 C537.35,334.33 537.73,332.67 538.10,330.00 C538.47,327.33 538.98,325.00 539.40,320.00 C539.82,315.00 540.23,308.33 540.60,300.00 C540.97,291.67 541.27,279.17 541.60,270.00 C541.93,260.83 542.18,250.33 542.60,245.00 C543.02,239.67 543.85,239.17 544.10,238.00 Z" fill="#9dbbd9" opacity="0.55"/>
<path d="M597.50,243.00 C597.67,243.83 598.17,243.50 598.50,248.00 C598.83,252.50 599.17,261.33 599.50,270.00 C599.83,278.67 600.08,291.67 600.50,300.00 C600.92,308.33 601.50,315.00 602.00,320.00 C602.50,325.00 603.00,327.33 603.50,330.00 C604.00,332.67 604.75,334.33 605.00,336.00 C605.25,337.67 606.00,338.33 605.00,340.00 C604.00,341.67 600.25,344.00 599.00,346.00 C597.75,348.00 597.75,351.00 597.50,352.00 L594.50,352.00 C594.25,351.00 594.25,348.00 593.00,346.00 C591.75,344.00 588.00,341.67 587.00,340.00 C586.00,338.33 586.75,337.67 587.00,336.00 C587.25,334.33 588.00,332.67 588.50,330.00 C589.00,327.33 589.50,325.00 590.00,320.00 C590.50,315.00 591.08,308.33 591.50,300.00 C591.92,291.67 592.17,278.67 592.50,270.00 C592.83,261.33 593.17,252.50 593.50,248.00 C593.83,243.50 594.33,243.83 594.50,243.00 Z" fill="#9dbbd9" opacity="0.55"/>
<path d="M648.10,240.00 C648.27,240.83 648.68,240.00 649.10,245.00 C649.52,250.00 650.10,260.83 650.60,270.00 C651.10,279.17 651.60,291.67 652.10,300.00 C652.60,308.33 653.12,315.00 653.60,320.00 C654.08,325.00 654.60,327.33 655.00,330.00 C655.40,332.67 655.83,334.33 656.00,336.00 C656.17,337.67 657.07,338.33 656.00,340.00 C654.93,341.67 650.92,344.00 649.60,346.00 C648.28,348.00 648.35,351.00 648.10,352.00 L645.10,352.00 C644.85,351.00 644.92,348.00 643.60,346.00 C642.28,344.00 638.27,341.67 637.20,340.00 C636.13,338.33 637.03,337.67 637.20,336.00 C637.37,334.33 637.80,332.67 638.20,330.00 C638.60,327.33 639.12,325.00 639.60,320.00 C640.08,315.00 640.60,308.33 641.10,300.00 C641.60,291.67 642.10,279.17 642.60,270.00 C643.10,260.83 643.68,250.00 644.10,245.00 C644.52,240.00 644.93,240.83 645.10,240.00 Z" fill="#9dbbd9" opacity="0.55"/>
<path d="M524.80,238.00 C524.93,239.17 525.38,234.67 525.60,245.00 C525.82,255.33 525.97,287.33 526.10,300.00 C526.23,312.67 525.82,316.00 526.40,321.00 C526.98,326.00 528.67,327.50 529.60,330.00 C530.53,332.50 531.50,334.33 532.00,336.00 C532.50,337.67 533.50,338.33 532.60,340.00 C531.70,341.67 527.85,344.00 526.60,346.00 C525.35,348.00 525.35,351.00 525.10,352.00 L522.10,352.00 C521.85,351.00 521.85,348.00 520.60,346.00 C519.35,344.00 515.50,341.67 514.60,340.00 C513.70,338.33 514.70,337.67 515.20,336.00 C515.70,334.33 516.67,332.50 517.60,330.00 C518.53,327.50 520.22,326.00 520.80,321.00 C521.38,316.00 520.97,312.67 521.10,300.00 C521.23,287.33 521.38,255.33 521.60,245.00 C521.82,234.67 522.27,239.17 522.40,238.00 Z" fill="#9dbbd9" opacity="0.45"/>
<path d="M524.60,238.00 C524.67,242.50 524.92,256.33 525.00,265.00 C525.08,273.67 525.05,282.35 525.10,290.00 C525.15,297.65 525.20,305.67 525.30,310.90 C525.40,316.13 525.28,318.60 525.70,321.40 C526.12,324.20 527.10,325.97 527.80,327.70 C528.50,329.43 529.20,330.42 529.90,331.80 C530.60,333.18 531.48,334.60 532.00,336.00 C532.52,337.40 533.18,338.98 533.00,340.20 C532.82,341.42 531.95,342.25 530.90,343.30 C529.85,344.35 527.58,345.27 526.70,346.50 C525.82,347.73 525.87,347.95 525.60,350.70 C525.33,353.45 525.30,360.03 525.10,363.00 C524.90,365.97 524.52,367.58 524.40,368.50 L522.80,368.50 C522.68,367.58 522.30,365.97 522.10,363.00 C521.90,360.03 521.87,353.45 521.60,350.70 C521.33,347.95 521.38,347.73 520.50,346.50 C519.62,345.27 517.35,344.35 516.30,343.30 C515.25,342.25 514.38,341.42 514.20,340.20 C514.02,338.98 514.68,337.40 515.20,336.00 C515.72,334.60 516.60,333.18 517.30,331.80 C518.00,330.42 518.70,329.43 519.40,327.70 C520.10,325.97 521.08,324.20 521.50,321.40 C521.92,318.60 521.80,316.13 521.90,310.90 C522.00,305.67 522.05,297.65 522.10,290.00 C522.15,282.35 522.12,273.67 522.20,265.00 C522.28,256.33 522.53,242.50 522.60,238.00 Z" fill="#9dbbd9" />
<path d="M547.10,238.00 C547.18,239.17 547.37,240.50 547.60,245.00 C547.83,249.50 548.25,258.33 548.50,265.00 C548.75,271.67 548.88,279.08 549.10,285.00 C549.32,290.92 549.67,296.18 549.80,300.50 C549.93,304.82 549.83,307.42 549.90,310.90 C549.97,314.38 549.87,318.60 550.20,321.40 C550.53,324.20 551.45,325.97 551.90,327.70 C552.35,329.43 552.55,330.42 552.90,331.80 C553.25,333.18 553.82,334.60 554.00,336.00 C554.18,337.40 554.53,338.98 554.00,340.20 C553.47,341.42 551.85,342.25 550.80,343.30 C549.75,344.35 548.30,345.38 547.70,346.50 C547.10,347.62 547.30,347.25 547.20,350.00 C547.10,352.75 547.23,360.00 547.10,363.00 C546.97,366.00 546.52,367.17 546.40,368.00 L544.80,368.00 C544.68,367.17 544.23,366.00 544.10,363.00 C543.97,360.00 544.10,352.75 544.00,350.00 C543.90,347.25 544.10,347.62 543.50,346.50 C542.90,345.38 541.45,344.35 540.40,343.30 C539.35,342.25 537.73,341.42 537.20,340.20 C536.67,338.98 537.02,337.40 537.20,336.00 C537.38,334.60 537.95,333.18 538.30,331.80 C538.65,330.42 538.85,329.43 539.30,327.70 C539.75,325.97 540.67,324.20 541.00,321.40 C541.33,318.60 541.23,314.38 541.30,310.90 C541.37,307.42 541.27,304.82 541.40,300.50 C541.53,296.18 541.88,290.92 542.10,285.00 C542.32,279.08 542.45,271.67 542.70,265.00 C542.95,258.33 543.37,249.50 543.60,245.00 C543.83,240.50 544.02,239.17 544.10,238.00 Z" fill="#9dbbd9" />
<path d="M575.20,243.00 C575.25,246.67 575.42,257.17 575.50,265.00 C575.58,272.83 575.57,282.35 575.70,290.00 C575.83,297.65 576.13,305.67 576.30,310.90 C576.47,316.13 576.35,318.60 576.70,321.40 C577.05,324.20 577.77,325.97 578.40,327.70 C579.03,329.43 579.92,330.42 580.50,331.80 C581.08,333.18 581.48,334.60 581.90,336.00 C582.32,337.40 583.17,338.98 583.00,340.20 C582.83,341.42 581.88,342.25 580.90,343.30 C579.92,344.35 577.88,345.27 577.10,346.50 C576.32,347.73 576.45,347.95 576.20,350.70 C575.95,353.45 575.83,360.78 575.60,363.00 C575.37,365.22 574.93,363.83 574.80,364.00 L573.60,364.00 C573.47,363.83 573.03,365.22 572.80,363.00 C572.57,360.78 572.45,353.45 572.20,350.70 C571.95,347.95 572.08,347.73 571.30,346.50 C570.52,345.27 568.48,344.35 567.50,343.30 C566.52,342.25 565.57,341.42 565.40,340.20 C565.23,338.98 566.08,337.40 566.50,336.00 C566.92,334.60 567.32,333.18 567.90,331.80 C568.48,330.42 569.37,329.43 570.00,327.70 C570.63,325.97 571.35,324.20 571.70,321.40 C572.05,318.60 571.93,316.13 572.10,310.90 C572.27,305.67 572.57,297.65 572.70,290.00 C572.83,282.35 572.82,272.83 572.90,265.00 C572.98,257.17 573.15,246.67 573.20,243.00 Z" fill="#9dbbd9" />
<path d="M597.70,243.00 C597.82,246.67 598.25,257.17 598.40,265.00 C598.55,272.83 598.48,282.35 598.60,290.00 C598.72,297.65 598.83,305.67 599.10,310.90 C599.37,316.13 599.73,318.60 600.20,321.40 C600.67,324.20 601.35,325.97 601.90,327.70 C602.45,329.43 602.98,330.42 603.50,331.80 C604.02,333.18 604.75,334.60 605.00,336.00 C605.25,337.40 605.52,338.98 605.00,340.20 C604.48,341.42 602.95,342.25 601.90,343.30 C600.85,344.35 599.35,345.38 598.70,346.50 C598.05,347.62 598.20,346.92 598.00,350.00 C597.80,353.08 597.73,362.27 597.50,365.00 C597.27,367.73 596.75,366.17 596.60,366.40 L595.40,366.40 C595.25,366.17 594.73,367.73 594.50,365.00 C594.27,362.27 594.20,353.08 594.00,350.00 C593.80,346.92 593.95,347.62 593.30,346.50 C592.65,345.38 591.15,344.35 590.10,343.30 C589.05,342.25 587.52,341.42 587.00,340.20 C586.48,338.98 586.75,337.40 587.00,336.00 C587.25,334.60 587.98,333.18 588.50,331.80 C589.02,330.42 589.55,329.43 590.10,327.70 C590.65,325.97 591.33,324.20 591.80,321.40 C592.27,318.60 592.63,316.13 592.90,310.90 C593.17,305.67 593.28,297.65 593.40,290.00 C593.52,282.35 593.45,272.83 593.60,265.00 C593.75,257.17 594.18,246.67 594.30,243.00 Z" fill="#9dbbd9" />
<path d="M625.60,240.00 C625.65,244.17 625.82,256.67 625.90,265.00 C625.98,273.33 625.97,282.35 626.10,290.00 C626.23,297.65 626.60,305.67 626.70,310.90 C626.80,316.13 626.42,318.60 626.70,321.40 C626.98,324.20 627.77,325.97 628.40,327.70 C629.03,329.43 629.82,330.42 630.50,331.80 C631.18,333.18 632.08,334.60 632.50,336.00 C632.92,337.40 633.27,338.98 633.00,340.20 C632.73,341.42 631.78,342.25 630.90,343.30 C630.02,344.35 628.42,345.38 627.70,346.50 C626.98,347.62 626.88,347.08 626.60,350.00 C626.32,352.92 626.23,361.50 626.00,364.00 C625.77,366.50 625.33,364.83 625.20,365.00 L624.00,365.00 C623.87,364.83 623.43,366.50 623.20,364.00 C622.97,361.50 622.88,352.92 622.60,350.00 C622.32,347.08 622.22,347.62 621.50,346.50 C620.78,345.38 619.18,344.35 618.30,343.30 C617.42,342.25 616.47,341.42 616.20,340.20 C615.93,338.98 616.28,337.40 616.70,336.00 C617.12,334.60 618.02,333.18 618.70,331.80 C619.38,330.42 620.17,329.43 620.80,327.70 C621.43,325.97 622.22,324.20 622.50,321.40 C622.78,318.60 622.40,316.13 622.50,310.90 C622.60,305.67 622.97,297.65 623.10,290.00 C623.23,282.35 623.22,273.33 623.30,265.00 C623.38,256.67 623.55,244.17 623.60,240.00 Z" fill="#9dbbd9" />
<path d="M648.10,240.00 C648.25,243.33 648.75,253.33 649.00,260.00 C649.25,266.67 649.43,275.00 649.60,280.00 C649.77,285.00 649.83,286.58 650.00,290.00 C650.17,293.42 650.40,297.02 650.60,300.50 C650.80,303.98 650.82,307.42 651.20,310.90 C651.58,314.38 652.38,318.60 652.90,321.40 C653.42,324.20 653.95,325.97 654.30,327.70 C654.65,329.43 654.72,330.42 655.00,331.80 C655.28,333.18 655.83,334.60 656.00,336.00 C656.17,337.40 656.52,338.98 656.00,340.20 C655.48,341.42 653.95,342.25 652.90,343.30 C651.85,344.35 650.42,345.38 649.70,346.50 C648.98,347.62 648.87,346.58 648.60,350.00 C648.33,353.42 648.33,364.00 648.10,367.00 C647.87,370.00 647.35,367.83 647.20,368.00 L646.00,368.00 C645.85,367.83 645.33,370.00 645.10,367.00 C644.87,364.00 644.87,353.42 644.60,350.00 C644.33,346.58 644.22,347.62 643.50,346.50 C642.78,345.38 641.35,344.35 640.30,343.30 C639.25,342.25 637.72,341.42 637.20,340.20 C636.68,338.98 637.03,337.40 637.20,336.00 C637.37,334.60 637.92,333.18 638.20,331.80 C638.48,330.42 638.55,329.43 638.90,327.70 C639.25,325.97 639.78,324.20 640.30,321.40 C640.82,318.60 641.62,314.38 642.00,310.90 C642.38,307.42 642.40,303.98 642.60,300.50 C642.80,297.02 643.03,293.42 643.20,290.00 C643.37,286.58 643.43,285.00 643.60,280.00 C643.77,275.00 643.95,266.67 644.20,260.00 C644.45,253.33 644.95,243.33 645.10,240.00 Z" fill="#9dbbd9" />
<line x1="461.40" y1="340.50" x2="510.10" y2="340.50" stroke="#111" stroke-width="1.3" stroke-dasharray="5.2 6.0"/>
<line x1="510.70" y1="340.50" x2="560.30" y2="340.50" stroke="#111" stroke-width="1.3" stroke-dasharray="5.2 6.0"/>
<line x1="561.40" y1="340.50" x2="610.80" y2="340.50" stroke="#111" stroke-width="1.3" stroke-dasharray="5.2 6.0"/>
<line x1="611.70" y1="340.50" x2="661.50" y2="340.50" stroke="#111" stroke-width="1.3" stroke-dasharray="5.2 6.0"/>
<text x="513.20" y="236.42" font-size="7.00" fill="#262626" textLength="42.90177375" lengthAdjust="spacingAndGlyphs"><tspan font-style="italic">P</tspan> = 2.8 × 10<tspan font-size="4.34" dy="-4.09">−33</tspan></text>
<line x1="522.90" y1="238.50" x2="545.20" y2="238.50" stroke="#1a1a1a" stroke-width="0.95" />
<text x="563.40" y="236.42" font-size="7.00" fill="#262626" textLength="44.296456875" lengthAdjust="spacingAndGlyphs"><tspan font-style="italic">P</tspan> = 6.12 × 10<tspan font-size="4.34" dy="-4.09">−9</tspan></text>
<line x1="573.90" y1="238.50" x2="596.30" y2="238.50" stroke="#1a1a1a" stroke-width="0.95" />
<text x="613.60" y="236.42" font-size="7.00" fill="#262626" textLength="46.57199249999999" lengthAdjust="spacingAndGlyphs"><tspan font-style="italic">P</tspan> = 5.46 × 10<tspan font-size="4.34" dy="-4.09">−22</tspan></text>
<line x1="624.30" y1="238.50" x2="647.20" y2="238.50" stroke="#1a1a1a" stroke-width="0.95" />
<rect x="483.95" y="273.65" width="22.30" height="6.70" rx="1.2" fill="#fff" stroke="#3a6cb8" stroke-width="0.75"/>
<text x="495.10" y="279.25" font-size="6.25" fill="#3a6cb8" text-anchor="middle" textLength="19.4" lengthAdjust="spacingAndGlyphs">40.5%</text>
<rect x="512.45" y="273.65" width="20.50" height="6.70" rx="1.2" fill="#fff" stroke="#3a6cb8" stroke-width="0.75"/>
<text x="522.70" y="279.25" font-size="6.25" fill="#3a6cb8" text-anchor="middle" textLength="17.59999999999993" lengthAdjust="spacingAndGlyphs">37.4%</text>
<rect x="534.65" y="273.65" width="21.60" height="6.70" rx="1.2" fill="#fff" stroke="#3a6cb8" stroke-width="0.75"/>
<text x="545.45" y="279.25" font-size="6.25" fill="#3a6cb8" text-anchor="middle" textLength="18.700000000000067" lengthAdjust="spacingAndGlyphs">60.3%</text>
<rect x="563.25" y="273.65" width="20.90" height="6.70" rx="1.2" fill="#fff" stroke="#3a6cb8" stroke-width="0.75"/>
<text x="573.70" y="279.25" font-size="6.25" fill="#3a6cb8" text-anchor="middle" textLength="18.00000000000002" lengthAdjust="spacingAndGlyphs">41.8%</text>
<rect x="585.85" y="273.65" width="21.20" height="6.70" rx="1.2" fill="#fff" stroke="#3a6cb8" stroke-width="0.75"/>
<text x="596.45" y="279.25" font-size="6.25" fill="#3a6cb8" text-anchor="middle" textLength="18.299999999999976" lengthAdjust="spacingAndGlyphs">56.2%</text>
<rect x="612.75" y="273.65" width="21.60" height="6.70" rx="1.2" fill="#fff" stroke="#3a6cb8" stroke-width="0.75"/>
<text x="623.55" y="279.25" font-size="6.25" fill="#3a6cb8" text-anchor="middle" textLength="18.700000000000067" lengthAdjust="spacingAndGlyphs">39.9%</text>
<rect x="636.15" y="273.65" width="21.20" height="6.70" rx="1.2" fill="#fff" stroke="#3a6cb8" stroke-width="0.75"/>
<text x="646.75" y="279.25" font-size="6.25" fill="#3a6cb8" text-anchor="middle" textLength="18.30000000000009" lengthAdjust="spacingAndGlyphs">62.0%</text>
<rect x="487.95" y="354.15" width="17.70" height="6.70" rx="1.2" fill="#fff" stroke="#e8474a" stroke-width="0.75"/>
<text x="496.80" y="359.75" font-size="6.25" fill="#e8474a" text-anchor="middle" textLength="14.799999999999978" lengthAdjust="spacingAndGlyphs">5.6%</text>
<rect x="514.65" y="354.15" width="17.60" height="6.70" rx="1.2" fill="#fff" stroke="#e8474a" stroke-width="0.75"/>
<text x="523.45" y="359.75" font-size="6.25" fill="#e8474a" text-anchor="middle" textLength="14.700000000000069" lengthAdjust="spacingAndGlyphs">5.0%</text>
<rect x="536.55" y="354.15" width="19.30" height="6.70" rx="1.2" fill="#fff" stroke="#e8474a" stroke-width="0.75"/>
<text x="546.20" y="359.75" font-size="6.25" fill="#e8474a" text-anchor="middle" textLength="16.4" lengthAdjust="spacingAndGlyphs">8.6%</text>
<rect x="565.75" y="354.15" width="17.90" height="6.70" rx="1.2" fill="#fff" stroke="#e8474a" stroke-width="0.75"/>
<text x="574.70" y="359.75" font-size="6.25" fill="#e8474a" text-anchor="middle" textLength="15.000000000000023" lengthAdjust="spacingAndGlyphs">7.3%</text>
<rect x="586.45" y="354.15" width="17.70" height="6.70" rx="1.2" fill="#fff" stroke="#e8474a" stroke-width="0.75"/>
<text x="595.30" y="359.75" font-size="6.25" fill="#e8474a" text-anchor="middle" textLength="14.799999999999978" lengthAdjust="spacingAndGlyphs">4.9%</text>
<rect x="616.15" y="354.15" width="16.80" height="6.70" rx="1.2" fill="#fff" stroke="#e8474a" stroke-width="0.75"/>
<text x="624.55" y="359.75" font-size="6.25" fill="#e8474a" text-anchor="middle" textLength="13.9" lengthAdjust="spacingAndGlyphs">4.7%</text>
<rect x="636.95" y="354.15" width="18.90" height="6.70" rx="1.2" fill="#fff" stroke="#e8474a" stroke-width="0.75"/>
<text x="646.40" y="359.75" font-size="6.25" fill="#e8474a" text-anchor="middle" textLength="16.00000000000002" lengthAdjust="spacingAndGlyphs">2.8%</text>
<rect x="482.50" y="335.14" width="7.40" height="2.00" fill="#fff" />
<text x="481.20" y="333.75" font-size="6.15" fill="#222" textLength="6.4506875" lengthAdjust="spacingAndGlyphs">74</text>
<rect x="522.30" y="335.14" width="4.20" height="2.00" fill="#fff" />
<text x="521.20" y="333.75" font-size="6.15" fill="#222" textLength="6.4506875" lengthAdjust="spacingAndGlyphs">74</text>
<rect x="543.90" y="326.42" width="4.30" height="2.00" fill="#fff" />
<text x="542.30" y="325.03" font-size="6.15" fill="#222" textLength="6.4506875" lengthAdjust="spacingAndGlyphs">94</text>
<rect x="572.50" y="334.70" width="4.30" height="2.00" fill="#fff" />
<text x="571.50" y="333.31" font-size="6.15" fill="#222" textLength="6.4506875" lengthAdjust="spacingAndGlyphs">75</text>
<rect x="594.00" y="329.90" width="4.00" height="2.00" fill="#fff" />
<text x="593.00" y="328.52" font-size="6.15" fill="#222" textLength="6.4506875" lengthAdjust="spacingAndGlyphs">86</text>
<rect x="623.00" y="334.70" width="4.00" height="2.00" fill="#fff" />
<text x="622.10" y="333.31" font-size="6.15" fill="#222" textLength="6.4506875" lengthAdjust="spacingAndGlyphs">75</text>
<rect x="645.00" y="325.11" width="4.00" height="2.00" fill="#fff" />
<text x="643.50" y="323.72" font-size="6.15" fill="#222" textLength="6.4506875" lengthAdjust="spacingAndGlyphs">97</text>
<line x1="671.50" y1="284.90" x2="671.50" y2="331.30" stroke="#4a74bd" stroke-width="0.9" />
<path d="M669.50,286.00 L671.10,282.40 L672.70,286.00 Z" fill="#3d6bb5"/>
<text x="0" y="2.52" font-size="7.00" fill="#262626" text-anchor="middle" textLength="44.392218750000005" lengthAdjust="spacingAndGlyphs" transform="translate(664.80 307.50) rotate(-90)">Re-adenylation</text>
<line x1="671.50" y1="341.30" x2="671.50" y2="392.70" stroke="#ec4a4d" stroke-width="0.9" />
<path d="M669.50,391.60 L671.10,395.20 L672.70,391.60 Z" fill="#e23b3e"/>
<text x="0" y="2.52" font-size="7.00" fill="#262626" text-anchor="middle" textLength="42.194624999999995" lengthAdjust="spacingAndGlyphs" transform="translate(664.80 368.80) rotate(-90)">Deadenylation</text>
<line x1="464.50" y1="205.70" x2="464.50" y2="215.90" stroke="#333" stroke-width="0.5" />
<text x="466.20" y="209.72" font-size="5.62" fill="#3a3a3a" textLength="24.6" lengthAdjust="spacingAndGlyphs"><tspan font-style="italic">n</tspan> = 45,931</text>
<text x="466.20" y="215.12" font-size="5.62" fill="#3a3a3a" textLength="24.6" lengthAdjust="spacingAndGlyphs"><tspan font-style="italic">n</tspan> = 14,818</text>
<line x1="511.50" y1="205.70" x2="511.50" y2="215.90" stroke="#333" stroke-width="0.5" />
<rect x="511.90" y="205.90" width="0.60" height="4.20" fill="#2161a6" />
<rect x="511.90" y="211.10" width="3.90" height="4.00" fill="#58b66e" stroke="#333" stroke-width="0.3"/>
<text x="513.40" y="209.72" font-size="5.62" fill="#3a3a3a" textLength="16.8" lengthAdjust="spacingAndGlyphs"><tspan font-style="italic">n</tspan> = 151</text>
<text x="513.40" y="215.12" font-size="5.62" fill="#3a3a3a" textLength="21.3" lengthAdjust="spacingAndGlyphs"><tspan font-style="italic">n</tspan> = 1,289</text>
<line x1="525.50" y1="205.70" x2="525.50" y2="215.90" stroke="#aaa" stroke-width="0.4" />
<line x1="536.50" y1="205.70" x2="536.50" y2="215.90" stroke="#333" stroke-width="0.5" />
<rect x="536.90" y="205.90" width="0.60" height="4.20" fill="#2161a6" />
<rect x="536.90" y="211.10" width="10.10" height="4.00" fill="#58b66e" stroke="#333" stroke-width="0.3"/>
<text x="538.40" y="209.72" font-size="5.62" fill="#3a3a3a" textLength="14.0" lengthAdjust="spacingAndGlyphs"><tspan font-style="italic">n</tspan> = 36</text>
<text x="538.40" y="215.12" font-size="5.62" fill="#3a3a3a" textLength="18.6" lengthAdjust="spacingAndGlyphs"><tspan font-style="italic">n</tspan> = 2,196</text>
<line x1="551.50" y1="205.70" x2="551.50" y2="215.90" stroke="#aaa" stroke-width="0.4" />
<line x1="562.50" y1="205.70" x2="562.50" y2="215.90" stroke="#333" stroke-width="0.5" />
<rect x="562.20" y="205.90" width="0.60" height="4.20" fill="#2161a6" />
<rect x="562.20" y="211.10" width="1.60" height="4.00" fill="#58b66e" stroke="#333" stroke-width="0.3"/>
<text x="563.80" y="209.72" font-size="5.62" fill="#3a3a3a" textLength="15.3" lengthAdjust="spacingAndGlyphs"><tspan font-style="italic">n</tspan> = 14</text>
<text x="563.80" y="215.12" font-size="5.62" fill="#3a3a3a" textLength="18.5" lengthAdjust="spacingAndGlyphs"><tspan font-style="italic">n</tspan> = 293</text>
<line x1="576.50" y1="205.70" x2="576.50" y2="215.90" stroke="#aaa" stroke-width="0.4" />
<line x1="587.50" y1="205.70" x2="587.50" y2="215.90" stroke="#333" stroke-width="0.5" />
<rect x="587.90" y="205.90" width="0.60" height="4.20" fill="#2161a6" />
<rect x="587.90" y="211.10" width="6.40" height="4.00" fill="#58b66e" stroke="#333" stroke-width="0.3"/>
<text x="589.40" y="209.72" font-size="5.62" fill="#3a3a3a" textLength="14.0" lengthAdjust="spacingAndGlyphs"><tspan font-style="italic">n</tspan> = 92</text>
<text x="589.40" y="215.12" font-size="5.62" fill="#3a3a3a" textLength="21.8" lengthAdjust="spacingAndGlyphs"><tspan font-style="italic">n</tspan> = 1,192</text>
<line x1="601.50" y1="205.70" x2="601.50" y2="215.90" stroke="#aaa" stroke-width="0.4" />
<line x1="612.50" y1="205.70" x2="612.50" y2="215.90" stroke="#333" stroke-width="0.5" />
<rect x="612.80" y="205.90" width="0.60" height="4.20" fill="#2161a6" />
<rect x="612.80" y="211.10" width="1.00" height="4.00" fill="#58b66e" stroke="#333" stroke-width="0.3"/>
<text x="614.30" y="209.72" font-size="5.62" fill="#3a3a3a" textLength="14.0" lengthAdjust="spacingAndGlyphs"><tspan font-style="italic">n</tspan> = 64</text>
<text x="614.30" y="215.12" font-size="5.62" fill="#3a3a3a" textLength="19.4" lengthAdjust="spacingAndGlyphs"><tspan font-style="italic">n</tspan> = 568</text>
<line x1="624.50" y1="205.70" x2="624.50" y2="215.90" stroke="#aaa" stroke-width="0.4" />
<line x1="637.50" y1="205.70" x2="637.50" y2="215.90" stroke="#333" stroke-width="0.5" />
<rect x="637.70" y="205.90" width="0.60" height="4.20" fill="#2161a6" />
<rect x="637.70" y="211.10" width="4.00" height="4.00" fill="#58b66e" stroke="#333" stroke-width="0.3"/>
<text x="639.20" y="209.72" font-size="5.62" fill="#3a3a3a" textLength="14.0" lengthAdjust="spacingAndGlyphs"><tspan font-style="italic">n</tspan> = 14</text>
<text x="639.20" y="215.12" font-size="5.62" fill="#3a3a3a" textLength="19.4" lengthAdjust="spacingAndGlyphs"><tspan font-style="italic">n</tspan> = 687</text>
<line x1="651.50" y1="205.70" x2="651.50" y2="215.90" stroke="#aaa" stroke-width="0.4" />
<text x="507.10" y="224.02" font-size="7.00" fill="#262626" textLength="9.8" lengthAdjust="spacingAndGlyphs">0%</text>
<text x="519.80" y="224.02" font-size="7.00" fill="#262626" textLength="9.8" lengthAdjust="spacingAndGlyphs">2%</text>
<text x="531.70" y="224.02" font-size="7.00" fill="#262626" textLength="9.8" lengthAdjust="spacingAndGlyphs">0%</text>
<text x="545.10" y="224.02" font-size="7.00" fill="#262626" textLength="9.8" lengthAdjust="spacingAndGlyphs">2%</text>
<text x="557.90" y="224.02" font-size="7.00" fill="#262626" textLength="9.8" lengthAdjust="spacingAndGlyphs">0%</text>
<text x="571.00" y="224.02" font-size="7.00" fill="#262626" textLength="9.8" lengthAdjust="spacingAndGlyphs">2%</text>
<text x="583.10" y="224.02" font-size="7.00" fill="#262626" textLength="9.8" lengthAdjust="spacingAndGlyphs">0%</text>
<text x="596.40" y="224.02" font-size="7.00" fill="#262626" textLength="9.8" lengthAdjust="spacingAndGlyphs">2%</text>
<text x="608.00" y="224.02" font-size="7.00" fill="#262626" textLength="9.8" lengthAdjust="spacingAndGlyphs">0%</text>
<text x="620.80" y="224.02" font-size="7.00" fill="#262626" textLength="9.8" lengthAdjust="spacingAndGlyphs">2%</text>
<text x="632.90" y="224.02" font-size="7.00" fill="#262626" textLength="9.8" lengthAdjust="spacingAndGlyphs">0%</text>
<text x="645.00" y="224.02" font-size="7.00" fill="#262626" textLength="9.8" lengthAdjust="spacingAndGlyphs">2%</text>
<line x1="466.50" y1="377.70" x2="466.50" y2="386.90" stroke="#333" stroke-width="0.5" />
<text x="467.70" y="382.12" font-size="5.62" fill="#3a3a3a" textLength="25.3" lengthAdjust="spacingAndGlyphs"><tspan font-style="italic">n</tspan> = 39,601</text>
<line x1="513.50" y1="377.70" x2="513.50" y2="386.90" stroke="#333" stroke-width="0.5" />
<rect x="513.50" y="382.50" width="9.00" height="4.40" fill="#9dbbd9" stroke="#4a6a90" stroke-width="0.35"/>
<text x="514.60" y="382.12" font-size="5.62" fill="#3a3a3a" textLength="21.6" lengthAdjust="spacingAndGlyphs"><tspan font-style="italic">n</tspan> = 2,321</text>
<line x1="527.50" y1="377.70" x2="527.50" y2="386.90" stroke="#aaa" stroke-width="0.4" />
<line x1="539.50" y1="377.70" x2="539.50" y2="386.90" stroke="#333" stroke-width="0.5" />
<rect x="539.10" y="382.50" width="6.50" height="4.40" fill="#9dbbd9" stroke="#4a6a90" stroke-width="0.35"/>
<text x="540.20" y="382.12" font-size="5.62" fill="#3a3a3a" textLength="21.0" lengthAdjust="spacingAndGlyphs"><tspan font-style="italic">n</tspan> = 1,190</text>
<line x1="552.50" y1="377.70" x2="552.50" y2="386.90" stroke="#aaa" stroke-width="0.4" />
<line x1="564.50" y1="377.70" x2="564.50" y2="386.90" stroke="#333" stroke-width="0.5" />
<rect x="564.30" y="382.50" width="2.30" height="4.40" fill="#9dbbd9" stroke="#4a6a90" stroke-width="0.35"/>
<text x="565.40" y="382.12" font-size="5.62" fill="#3a3a3a" textLength="17.7" lengthAdjust="spacingAndGlyphs"><tspan font-style="italic">n</tspan> = 510</text>
<line x1="577.50" y1="377.70" x2="577.50" y2="386.90" stroke="#aaa" stroke-width="0.4" />
<line x1="589.50" y1="377.70" x2="589.50" y2="386.90" stroke="#333" stroke-width="0.5" />
<rect x="589.50" y="382.50" width="5.30" height="4.40" fill="#9dbbd9" stroke="#4a6a90" stroke-width="0.35"/>
<text x="590.60" y="382.12" font-size="5.62" fill="#3a3a3a" textLength="17.4" lengthAdjust="spacingAndGlyphs"><tspan font-style="italic">n</tspan> = 883</text>
<line x1="602.50" y1="377.70" x2="602.50" y2="386.90" stroke="#aaa" stroke-width="0.4" />
<line x1="613.50" y1="377.70" x2="613.50" y2="386.90" stroke="#333" stroke-width="0.5" />
<rect x="613.60" y="382.50" width="2.70" height="4.40" fill="#9dbbd9" stroke="#4a6a90" stroke-width="0.35"/>
<text x="614.70" y="382.12" font-size="5.62" fill="#3a3a3a" textLength="20.6" lengthAdjust="spacingAndGlyphs"><tspan font-style="italic">n</tspan> = 1,229</text>
<line x1="627.50" y1="377.70" x2="627.50" y2="386.90" stroke="#aaa" stroke-width="0.4" />
<line x1="639.50" y1="377.70" x2="639.50" y2="386.90" stroke="#333" stroke-width="0.5" />
<rect x="639.30" y="382.50" width="3.20" height="4.40" fill="#9dbbd9" stroke="#4a6a90" stroke-width="0.35"/>
<text x="640.40" y="382.12" font-size="5.62" fill="#3a3a3a" textLength="17.4" lengthAdjust="spacingAndGlyphs"><tspan font-style="italic">n</tspan> = 540</text>
<line x1="655.50" y1="377.70" x2="655.50" y2="386.90" stroke="#aaa" stroke-width="0.4" />
<text x="509.10" y="395.02" font-size="7.00" fill="#262626" textLength="9.8" lengthAdjust="spacingAndGlyphs">0%</text>
<text x="522.30" y="395.02" font-size="7.00" fill="#262626" textLength="9.8" lengthAdjust="spacingAndGlyphs">2%</text>
<text x="534.70" y="395.02" font-size="7.00" fill="#262626" textLength="9.8" lengthAdjust="spacingAndGlyphs">0%</text>
<text x="547.30" y="395.02" font-size="7.00" fill="#262626" textLength="9.8" lengthAdjust="spacingAndGlyphs">2%</text>
<text x="559.80" y="395.02" font-size="7.00" fill="#262626" textLength="9.8" lengthAdjust="spacingAndGlyphs">0%</text>
<text x="573.00" y="395.02" font-size="7.00" fill="#262626" textLength="9.8" lengthAdjust="spacingAndGlyphs">2%</text>
<text x="585.50" y="395.02" font-size="7.00" fill="#262626" textLength="9.8" lengthAdjust="spacingAndGlyphs">0%</text>
<text x="598.40" y="395.02" font-size="7.00" fill="#262626" textLength="9.8" lengthAdjust="spacingAndGlyphs">2%</text>
<text x="609.60" y="395.02" font-size="7.00" fill="#262626" textLength="9.8" lengthAdjust="spacingAndGlyphs">0%</text>
<text x="622.40" y="395.02" font-size="7.00" fill="#262626" textLength="9.8" lengthAdjust="spacingAndGlyphs">2%</text>
<text x="634.50" y="395.02" font-size="7.00" fill="#262626" textLength="9.8" lengthAdjust="spacingAndGlyphs">0%</text>
<text x="650.50" y="395.02" font-size="7.00" fill="#262626" textLength="9.8" lengthAdjust="spacingAndGlyphs">2%</text>
<text x="498.20" y="406.12" font-size="7.00" fill="#262626" textLength="122.6" lengthAdjust="spacingAndGlyphs">Read abundance (relative to endogenous)</text>
<rect x="36.20" y="252.10" width="97.70" height="76.20" fill="#e0e2f2" />
<rect x="36.20" y="335.60" width="97.70" height="19.20" fill="#fde7df" />
<rect x="136.20" y="252.10" width="97.40" height="76.20" fill="#e0e2f2" />
<rect x="136.20" y="335.60" width="97.40" height="19.20" fill="#fde7df" />
<text x="-0.50" y="216.19" font-size="12.19" fill="#111" font-weight="bold" textLength="7.023984375" lengthAdjust="spacingAndGlyphs">d</text>
<circle cx="71.10" cy="225.60" r="1.20" fill="#2161a6"/>
<text x="75.60" y="228.00" font-size="6.68" fill="#262626" textLength="63.2" lengthAdjust="spacingAndGlyphs">Poly(A) + m<tspan font-size="3.78" dy="-1.6">1</tspan><tspan dy="1.6">Ψ</tspan>Cm<tspan font-size="3.78" dy="-1.6">1</tspan><tspan dy="1.6">Ψ</tspan>AG</text>
<circle cx="149.80" cy="225.90" r="0.90" fill="#979c9c"/>
<text x="154.00" y="228.30" font-size="6.68" fill="#262626" textLength="20.3" lengthAdjust="spacingAndGlyphs">Poly(A)</text>
<text x="59.90" y="238.28" font-size="6.89" fill="#262626" textLength="54.5" lengthAdjust="spacingAndGlyphs">mRNA-1273 UTRs</text>
<text x="158.90" y="238.38" font-size="6.89" fill="#262626" textLength="49.0" lengthAdjust="spacingAndGlyphs">BNT162b2 UTRs</text>
<text x="188.10" y="216.88" font-size="6.89" fill="#262626" textLength="44.9" lengthAdjust="spacingAndGlyphs">BNT162b2 tails</text>
<text x="190.40" y="224.80" font-size="6.68" fill="#262626" textLength="40.6" lengthAdjust="spacingAndGlyphs"><tspan fill="#999">30A-</tspan><tspan font-weight="bold" fill="#222">10N</tspan><tspan fill="#999">-70A</tspan></text>
<line x1="38.80" y1="241.50" x2="131.30" y2="241.50" stroke="#333" stroke-width="1.2" />
<line x1="137.00" y1="241.50" x2="230.20" y2="241.50" stroke="#333" stroke-width="1.2" />
<text x="59.30" y="249.52" font-size="7.00" fill="#262626" textLength="9.2" lengthAdjust="spacingAndGlyphs">0 h</text>
<text x="102.15" y="249.52" font-size="7.00" fill="#262626" textLength="13.3" lengthAdjust="spacingAndGlyphs">24 h</text>
<text x="158.90" y="249.52" font-size="7.00" fill="#262626" textLength="8.8" lengthAdjust="spacingAndGlyphs">0 h</text>
<text x="201.75" y="249.52" font-size="7.00" fill="#262626" textLength="13.1" lengthAdjust="spacingAndGlyphs">24 h</text>
<text x="0" y="2.44" font-size="6.78" fill="#262626" text-anchor="middle" textLength="40.2" lengthAdjust="spacingAndGlyphs" transform="translate(10.50 302.70) rotate(-90)">Poly(A) length</text>
<line x1="35.50" y1="252.10" x2="35.50" y2="355.00" stroke="#444" stroke-width="0.8" />
<line x1="32.20" y1="350.50" x2="35.80" y2="350.50" stroke="#444" stroke-width="0.7" />
<text x="29.50" y="352.72" font-size="7.00" fill="#333" text-anchor="end" textLength="3.6702187499999996" lengthAdjust="spacingAndGlyphs">0</text>
<line x1="32.20" y1="323.50" x2="35.80" y2="323.50" stroke="#444" stroke-width="0.7" />
<text x="29.50" y="325.72" font-size="7.00" fill="#333" text-anchor="end" textLength="11.01065625" lengthAdjust="spacingAndGlyphs">100</text>
<line x1="32.20" y1="296.50" x2="35.80" y2="296.50" stroke="#444" stroke-width="0.7" />
<text x="29.50" y="298.72" font-size="7.00" fill="#333" text-anchor="end" textLength="11.01065625" lengthAdjust="spacingAndGlyphs">200</text>
<line x1="32.20" y1="269.50" x2="35.80" y2="269.50" stroke="#444" stroke-width="0.7" />
<text x="29.50" y="271.72" font-size="7.00" fill="#333" text-anchor="end" textLength="11.01065625" lengthAdjust="spacingAndGlyphs">300</text>
<line x1="135.50" y1="252.10" x2="135.50" y2="355.00" stroke="#444" stroke-width="0.8" />
<line x1="35.80" y1="355.50" x2="133.90" y2="355.50" stroke="#555" stroke-width="0.8" />
<line x1="135.80" y1="355.50" x2="233.60" y2="355.50" stroke="#555" stroke-width="0.8" />
<path d="M62.20,263.50 L62.60,263.50 C62.67,268.00 62.73,282.83 63.00,290.50 C63.27,298.17 63.75,304.18 64.20,309.50 C64.65,314.82 65.20,319.27 65.70,322.40 C66.20,325.53 66.58,326.70 67.20,328.30 C67.82,329.90 68.30,330.90 69.40,332.00 C70.50,333.10 72.68,334.05 73.80,334.90 C74.92,335.75 75.37,336.32 76.10,337.10 C76.83,337.88 78.60,338.58 78.20,339.60 C77.80,340.62 75.53,341.92 73.70,343.20 C71.87,344.48 68.95,346.08 67.20,347.30 C65.45,348.52 63.87,349.97 63.20,350.50 L62.20,350.50 Z" fill="#979c9c" />
<path d="M106.80,260.80 L107.20,260.80 C107.33,262.78 107.70,268.75 108.00,272.70 C108.30,276.65 108.67,281.07 109.00,284.50 C109.33,287.93 109.58,290.35 110.00,293.30 C110.42,296.25 110.93,299.25 111.50,302.20 C112.07,305.15 112.97,308.70 113.40,311.00 C113.83,313.30 113.88,313.72 114.10,316.00 C114.32,318.28 114.42,322.60 114.70,324.70 C114.98,326.80 115.28,327.55 115.80,328.60 C116.32,329.65 117.22,330.18 117.80,331.00 C118.38,331.82 118.67,332.58 119.30,333.50 C119.93,334.42 120.77,335.58 121.60,336.50 C122.43,337.42 124.68,338.08 124.30,339.00 C123.92,339.92 121.22,340.83 119.30,342.00 C117.38,343.17 114.63,344.67 112.80,346.00 C110.97,347.33 109.05,349.33 108.30,350.00 L106.80,350.00 Z" fill="#979c9c" />
<path d="M106.80,318.80 L106.40,318.80 C106.02,319.78 105.20,323.07 104.10,324.70 C103.00,326.33 101.52,327.55 99.80,328.60 C98.08,329.65 95.53,330.38 93.80,331.00 C92.07,331.62 89.40,331.88 89.40,332.30 C89.40,332.72 91.90,333.05 93.80,333.50 C95.70,333.95 98.92,334.50 100.80,335.00 C102.68,335.50 104.17,335.93 105.10,336.50 C106.03,337.07 106.18,338.08 106.40,338.40 L106.80,338.40 Z" fill="#2161a6" />
<circle cx="57.32" cy="336.27" r="0.55" fill="#2161a6"/>
<circle cx="57.47" cy="327.57" r="0.55" fill="#2161a6"/>
<circle cx="59.74" cy="337.93" r="0.55" fill="#2161a6"/>
<circle cx="59.44" cy="326.52" r="0.55" fill="#2161a6"/>
<circle cx="57.60" cy="330.91" r="0.55" fill="#2161a6"/>
<circle cx="56.22" cy="331.08" r="0.55" fill="#2161a6"/>
<circle cx="60.05" cy="330.23" r="0.55" fill="#2161a6"/>
<circle cx="60.82" cy="328.20" r="0.55" fill="#2161a6"/>
<circle cx="61.81" cy="332.17" r="0.55" fill="#2161a6"/>
<circle cx="52.17" cy="330.90" r="0.55" fill="#2161a6"/>
<circle cx="56.13" cy="327.09" r="0.55" fill="#2161a6"/>
<circle cx="56.76" cy="331.76" r="0.55" fill="#2161a6"/>
<circle cx="59.02" cy="331.03" r="0.55" fill="#2161a6"/>
<circle cx="56.51" cy="329.86" r="0.55" fill="#2161a6"/>
<path d="M161.90,263.50 L162.30,263.50 C162.37,267.92 162.57,283.92 162.70,290.00 C162.83,296.08 162.93,296.38 163.10,300.00 C163.27,303.62 163.42,308.78 163.70,311.70 C163.98,314.62 164.22,315.55 164.80,317.50 C165.38,319.45 166.02,321.73 167.20,323.40 C168.38,325.07 170.45,326.43 171.90,327.50 C173.35,328.57 174.83,329.03 175.90,329.80 C176.97,330.57 177.62,331.32 178.30,332.10 C178.98,332.88 179.90,333.72 180.00,334.50 C180.10,335.28 179.42,336.03 178.90,336.80 C178.38,337.57 177.90,338.23 176.90,339.10 C175.90,339.97 174.40,341.02 172.90,342.00 C171.40,342.98 169.40,343.90 167.90,345.00 C166.40,346.10 164.80,347.77 163.90,348.60 C163.00,349.43 162.73,349.77 162.50,350.00 L161.90,350.00 Z" fill="#979c9c" />
<path d="M206.30,263.50 L206.70,263.50 C206.88,265.42 207.37,270.58 207.80,275.00 C208.23,279.42 208.48,285.83 209.30,290.00 C210.12,294.17 211.73,296.38 212.70,300.00 C213.67,303.62 214.22,307.80 215.10,311.70 C215.98,315.60 217.13,320.48 218.00,323.40 C218.87,326.32 219.42,327.45 220.30,329.20 C221.18,330.95 222.80,332.47 223.30,333.90 C223.80,335.33 224.30,336.47 223.30,337.80 C222.30,339.13 219.30,340.53 217.30,341.90 C215.30,343.27 212.88,344.65 211.30,346.00 C209.72,347.35 208.38,349.33 207.80,350.00 L206.30,350.00 Z" fill="#979c9c" />
<path d="M206.30,317.50 L205.90,317.50 C205.67,318.08 205.10,319.63 204.50,321.00 C203.90,322.37 203.47,324.33 202.30,325.70 C201.13,327.07 199.07,328.13 197.50,329.20 C195.93,330.27 194.27,331.37 192.90,332.10 C191.53,332.83 188.73,333.12 189.30,333.60 C189.87,334.08 193.97,334.47 196.30,335.00 C198.63,335.53 201.70,336.30 203.30,336.80 C204.90,337.30 205.47,337.80 205.90,338.00 L206.30,338.00 Z" fill="#2161a6" />
<circle cx="159.21" cy="327.07" r="0.55" fill="#2161a6"/>
<circle cx="145.44" cy="331.49" r="0.55" fill="#2161a6"/>
<circle cx="160.68" cy="331.02" r="0.55" fill="#2161a6"/>
<circle cx="159.19" cy="323.13" r="0.55" fill="#2161a6"/>
<circle cx="159.09" cy="324.98" r="0.55" fill="#2161a6"/>
<circle cx="157.78" cy="326.56" r="0.55" fill="#2161a6"/>
<circle cx="153.20" cy="319.05" r="0.55" fill="#2161a6"/>
<circle cx="157.56" cy="314.45" r="0.55" fill="#2161a6"/>
<circle cx="161.23" cy="326.02" r="0.55" fill="#2161a6"/>
<circle cx="157.19" cy="322.12" r="0.55" fill="#2161a6"/>
<circle cx="160.51" cy="331.92" r="0.55" fill="#2161a6"/>
<circle cx="158.11" cy="321.04" r="0.55" fill="#2161a6"/>
<circle cx="154.42" cy="323.74" r="0.55" fill="#2161a6"/>
<circle cx="155.96" cy="325.97" r="0.55" fill="#2161a6"/>
<circle cx="159.63" cy="319.52" r="0.55" fill="#2161a6"/>
<circle cx="161.00" cy="344.27" r="0.55" fill="#2161a6"/>
<circle cx="158.60" cy="338.47" r="0.55" fill="#2161a6"/>
<circle cx="155.34" cy="325.35" r="0.55" fill="#2161a6"/>
<circle cx="156.33" cy="337.46" r="0.55" fill="#2161a6"/>
<circle cx="160.17" cy="324.39" r="0.55" fill="#2161a6"/>
<circle cx="156.32" cy="330.43" r="0.55" fill="#2161a6"/>
<circle cx="151.57" cy="330.98" r="0.55" fill="#2161a6"/>
<circle cx="156.17" cy="327.69" r="0.55" fill="#2161a6"/>
<circle cx="156.02" cy="333.15" r="0.55" fill="#2161a6"/>
<circle cx="158.26" cy="325.21" r="0.55" fill="#2161a6"/>
<circle cx="157.43" cy="334.12" r="0.55" fill="#2161a6"/>
<line x1="36.60" y1="332.50" x2="133.90" y2="332.50" stroke="#111" stroke-width="1.3" stroke-dasharray="5.2 6.0"/>
<line x1="136.60" y1="332.50" x2="233.60" y2="332.50" stroke="#111" stroke-width="1.3" stroke-dasharray="5.2 6.0"/>
<text x="80.70" y="254.62" font-size="7.00" fill="#262626" textLength="9.2" lengthAdjust="spacingAndGlyphs"><tspan font-style="italic">P</tspan> =</text>
<text x="67.40" y="261.08" font-size="6.60" fill="#262626">5.46 × 10<tspan font-size="4.1" dy="-2.8">−147</tspan></text>
<line x1="62.30" y1="262.50" x2="107.30" y2="262.50" stroke="#1a1a1a" stroke-width="0.95" />
<text x="180.40" y="254.72" font-size="7.00" fill="#262626" textLength="9.2" lengthAdjust="spacingAndGlyphs"><tspan font-style="italic">P</tspan> =</text>
<text x="167.70" y="260.18" font-size="6.60" fill="#262626">1.34 × 10<tspan font-size="4.1" dy="-2.8">−204</tspan></text>
<line x1="162.00" y1="262.50" x2="206.70" y2="262.50" stroke="#1a1a1a" stroke-width="0.95" />
<rect x="68.25" y="295.45" width="20.30" height="6.70" rx="1.2" fill="#fff" stroke="#3a6cb8" stroke-width="0.75"/>
<text x="78.40" y="301.05" font-size="6.25" fill="#3a6cb8" text-anchor="middle" textLength="17.4" lengthAdjust="spacingAndGlyphs">18.0%</text>
<rect x="112.45" y="295.45" width="20.40" height="6.70" rx="1.2" fill="#fff" stroke="#3a6cb8" stroke-width="0.75"/>
<text x="122.65" y="301.05" font-size="6.25" fill="#3a6cb8" text-anchor="middle" textLength="17.499999999999993" lengthAdjust="spacingAndGlyphs">45.9%</text>
<rect x="167.75" y="295.45" width="20.30" height="6.70" rx="1.2" fill="#fff" stroke="#3a6cb8" stroke-width="0.75"/>
<text x="177.90" y="301.05" font-size="6.25" fill="#3a6cb8" text-anchor="middle" textLength="17.4" lengthAdjust="spacingAndGlyphs">27.5%</text>
<rect x="210.95" y="295.45" width="20.30" height="6.70" rx="1.2" fill="#fff" stroke="#3a6cb8" stroke-width="0.75"/>
<text x="221.10" y="301.05" font-size="6.25" fill="#3a6cb8" text-anchor="middle" textLength="17.4" lengthAdjust="spacingAndGlyphs">51.2%</text>
<rect x="68.25" y="340.85" width="20.00" height="6.70" rx="1.2" fill="#fff" stroke="#e8474a" stroke-width="0.75"/>
<text x="78.25" y="346.45" font-size="6.25" fill="#e8474a" text-anchor="middle" textLength="17.099999999999987" lengthAdjust="spacingAndGlyphs">54.2%</text>
<rect x="112.65" y="340.85" width="20.60" height="6.70" rx="1.2" fill="#fff" stroke="#e8474a" stroke-width="0.75"/>
<text x="122.95" y="346.45" font-size="6.25" fill="#e8474a" text-anchor="middle" textLength="17.699999999999996" lengthAdjust="spacingAndGlyphs">32.6%</text>
<rect x="167.95" y="340.75" width="20.30" height="6.70" rx="1.2" fill="#fff" stroke="#e8474a" stroke-width="0.75"/>
<text x="178.10" y="346.35" font-size="6.25" fill="#e8474a" text-anchor="middle" textLength="17.4" lengthAdjust="spacingAndGlyphs">39.0%</text>
<rect x="212.95" y="340.75" width="19.70" height="6.70" rx="1.2" fill="#fff" stroke="#e8474a" stroke-width="0.75"/>
<text x="222.80" y="346.35" font-size="6.25" fill="#e8474a" text-anchor="middle" textLength="16.800000000000004" lengthAdjust="spacingAndGlyphs">24.4%</text>
<rect x="63.00" y="336.60" width="8.20" height="1.80" fill="#fff" />
<text x="63.30" y="335.11" font-size="6.15" fill="#ddd" textLength="6.4506875" lengthAdjust="spacingAndGlyphs">47</text>
<rect x="108.50" y="329.59" width="8.00" height="1.80" fill="#fff" />
<text x="108.80" y="328.10" font-size="6.15" fill="#ddd" textLength="6.4506875" lengthAdjust="spacingAndGlyphs">73</text>
<rect x="163.00" y="334.18" width="8.00" height="1.80" fill="#fff" />
<text x="163.30" y="332.69" font-size="6.15" fill="#ddd" textLength="6.4506875" lengthAdjust="spacingAndGlyphs">56</text>
<rect x="208.00" y="326.89" width="8.00" height="1.80" fill="#fff" />
<text x="208.30" y="325.40" font-size="6.15" fill="#fff" textLength="6.4506875" lengthAdjust="spacingAndGlyphs">83</text>
<line x1="244.50" y1="288.90" x2="244.50" y2="327.70" stroke="#4a74bd" stroke-width="0.9" />
<path d="M242.60,290.00 L244.20,286.40 L245.80,290.00 Z" fill="#3d6bb5"/>
<text x="0" y="2.52" font-size="7.00" fill="#262626" text-anchor="middle" textLength="44.392218750000005" lengthAdjust="spacingAndGlyphs" transform="translate(238.90 308.10) rotate(-90)">Re-adenylation</text>
<line x1="244.50" y1="333.10" x2="244.50" y2="371.10" stroke="#ec4a4d" stroke-width="0.9" />
<path d="M242.60,370.00 L244.20,373.60 L245.80,370.00 Z" fill="#e23b3e"/>
<text x="0" y="2.52" font-size="7.00" fill="#262626" text-anchor="middle" textLength="42.194624999999995" lengthAdjust="spacingAndGlyphs" transform="translate(238.90 354.40) rotate(-90)">Deadenylation</text>
<line x1="37.50" y1="355.80" x2="37.50" y2="364.80" stroke="#333" stroke-width="0.5" />
<text x="37.80" y="359.58" font-size="5.51" fill="#3a3a3a" textLength="13.5" lengthAdjust="spacingAndGlyphs"><tspan font-style="italic">n</tspan> = 11</text>
<text x="37.80" y="364.38" font-size="5.51" fill="#3a3a3a" textLength="22.5" lengthAdjust="spacingAndGlyphs"><tspan font-style="italic">n</tspan> = 2,102</text>
<line x1="67.50" y1="355.80" x2="67.50" y2="364.80" stroke="#aaa" stroke-width="0.4" />
<line x1="87.50" y1="355.80" x2="87.50" y2="364.80" stroke="#333" stroke-width="0.5" />
<rect x="87.60" y="360.30" width="27.00" height="4.20" fill="#6e6e6e" stroke="#333" stroke-width="0.35"/>
<text x="88.30" y="359.58" font-size="5.51" fill="#3a3a3a" textLength="16.8" lengthAdjust="spacingAndGlyphs"><tspan font-style="italic">n</tspan> = 304</text>
<text x="88.30" y="364.38" font-size="5.51" fill="#ddd" textLength="24.5" lengthAdjust="spacingAndGlyphs"><tspan font-style="italic">n</tspan> = 40,438</text>
<line x1="116.50" y1="355.80" x2="116.50" y2="364.80" stroke="#aaa" stroke-width="0.4" />
<line x1="137.50" y1="355.80" x2="137.50" y2="364.80" stroke="#333" stroke-width="0.5" />
<text x="138.40" y="359.58" font-size="5.51" fill="#3a3a3a" textLength="13.5" lengthAdjust="spacingAndGlyphs"><tspan font-style="italic">n</tspan> = 39</text>
<text x="138.40" y="364.38" font-size="5.51" fill="#3a3a3a" textLength="22.0" lengthAdjust="spacingAndGlyphs"><tspan font-style="italic">n</tspan> = 4,916</text>
<line x1="164.50" y1="355.80" x2="164.50" y2="364.80" stroke="#aaa" stroke-width="0.4" />
<line x1="187.50" y1="355.80" x2="187.50" y2="364.80" stroke="#333" stroke-width="0.5" />
<rect x="187.50" y="360.30" width="14.00" height="4.20" fill="#8a8a8a" stroke="#333" stroke-width="0.35"/>
<text x="189.20" y="359.58" font-size="5.51" fill="#3a3a3a" textLength="16.8" lengthAdjust="spacingAndGlyphs"><tspan font-style="italic">n</tspan> = 318</text>
<text x="189.20" y="364.38" font-size="5.51" fill="#3a3a3a" textLength="24.0" lengthAdjust="spacingAndGlyphs"><tspan font-style="italic">n</tspan> = 18,275</text>
<text x="83.00" y="373.02" font-size="7.00" fill="#262626" textLength="9.8" lengthAdjust="spacingAndGlyphs">0%</text>
<text x="112.10" y="373.02" font-size="7.00" fill="#262626" textLength="9.8" lengthAdjust="spacingAndGlyphs">4%</text>
<text x="182.20" y="373.02" font-size="7.00" fill="#262626" textLength="9.8" lengthAdjust="spacingAndGlyphs">0%</text>
<text x="212.00" y="373.02" font-size="7.00" fill="#262626" textLength="9.8" lengthAdjust="spacingAndGlyphs">4%</text>
<text x="57.10" y="383.52" font-size="7.00" fill="#262626" textLength="156.6" lengthAdjust="spacingAndGlyphs">Abundance of reporter reads (relative to endogenous)</text>
<rect x="308.00" y="251.10" width="96.00" height="72.20" fill="#e0e2f2" />
<rect x="308.00" y="331.80" width="96.00" height="28.80" fill="#fde7df" />
<text x="277.80" y="216.19" font-size="12.19" fill="#111" font-weight="bold" textLength="6.395078125" lengthAdjust="spacingAndGlyphs">e</text>
<circle cx="291.50" cy="219.70" r="2.10" fill="#2161a6"/>
<text x="296.80" y="222.20" font-size="6.68" fill="#262626" textLength="63.9" lengthAdjust="spacingAndGlyphs">Poly(A) + m<tspan font-size="3.78" dy="-1.6">1</tspan><tspan dy="1.6">Ψ</tspan>Cm<tspan font-size="3.78" dy="-1.6">1</tspan><tspan dy="1.6">Ψ</tspan>AG</text>
<circle cx="291.50" cy="228.00" r="2.10" fill="#979c9c"/>
<text x="297.80" y="230.40" font-size="6.68" fill="#262626" textLength="20.4" lengthAdjust="spacingAndGlyphs">Poly(A)</text>
<text x="365.80" y="222.28" font-size="6.89" fill="#262626" textLength="45.0" lengthAdjust="spacingAndGlyphs">BNT162b2 tails</text>
<text x="367.90" y="230.40" font-size="6.68" fill="#262626" textLength="40.9" lengthAdjust="spacingAndGlyphs"><tspan fill="#999">30A-</tspan><tspan font-weight="bold" fill="#222">10N</tspan><tspan fill="#999">-70A</tspan></text>
<text x="329.00" y="238.28" font-size="6.89" fill="#262626" textLength="49.7" lengthAdjust="spacingAndGlyphs">BNT162b2 UTRs</text>
<line x1="307.20" y1="241.50" x2="403.20" y2="241.50" stroke="#333" stroke-width="1.2" />
<text x="329.60" y="248.52" font-size="7.00" fill="#262626" textLength="9.2" lengthAdjust="spacingAndGlyphs">0 h</text>
<text x="369.40" y="248.52" font-size="7.00" fill="#262626" textLength="13.2" lengthAdjust="spacingAndGlyphs">24 h</text>
<text x="0" y="2.44" font-size="6.78" fill="#262626" text-anchor="middle" textLength="40.6" lengthAdjust="spacingAndGlyphs" transform="translate(280.80 305.50) rotate(-90)">Poly(A) length</text>
<line x1="307.50" y1="251.10" x2="307.50" y2="361.00" stroke="#444" stroke-width="0.8" />
<line x1="304.00" y1="356.50" x2="307.60" y2="356.50" stroke="#444" stroke-width="0.7" />
<text x="301.30" y="358.92" font-size="7.00" fill="#333" text-anchor="end" textLength="3.6702187499999996" lengthAdjust="spacingAndGlyphs">0</text>
<line x1="304.00" y1="327.50" x2="307.60" y2="327.50" stroke="#444" stroke-width="0.7" />
<text x="301.30" y="330.32" font-size="7.00" fill="#333" text-anchor="end" textLength="11.01065625" lengthAdjust="spacingAndGlyphs">100</text>
<line x1="304.00" y1="299.50" x2="307.60" y2="299.50" stroke="#444" stroke-width="0.7" />
<text x="301.30" y="301.72" font-size="7.00" fill="#333" text-anchor="end" textLength="11.01065625" lengthAdjust="spacingAndGlyphs">200</text>
<line x1="304.00" y1="270.50" x2="307.60" y2="270.50" stroke="#444" stroke-width="0.7" />
<text x="301.30" y="273.12" font-size="7.00" fill="#333" text-anchor="end" textLength="11.01065625" lengthAdjust="spacingAndGlyphs">300</text>
<line x1="307.60" y1="361.50" x2="403.60" y2="361.50" stroke="#555" stroke-width="0.8" />
<path d="M333.20,261.00 L333.70,261.00 C333.73,264.17 333.83,274.55 333.90,280.00 C333.97,285.45 333.78,289.27 334.10,293.70 C334.42,298.13 335.08,303.17 335.80,306.60 C336.52,310.03 337.12,312.15 338.40,314.30 C339.68,316.45 341.78,317.98 343.50,319.50 C345.22,321.02 347.32,322.20 348.70,323.40 C350.08,324.60 352.02,325.63 351.80,326.70 C351.58,327.77 349.22,328.85 347.40,329.80 C345.58,330.75 342.62,331.10 340.90,332.40 C339.18,333.70 338.08,335.45 337.10,337.60 C336.12,339.75 335.48,342.73 335.00,345.30 C334.52,347.87 334.42,351.38 334.20,353.00 C333.98,354.62 333.78,354.67 333.70,355.00 L333.20,355.00 Z" fill="#979c9c" />
<path d="M333.20,262.00 L332.70,262.00 C332.67,265.00 332.57,274.72 332.50,280.00 C332.43,285.28 332.40,289.27 332.30,293.70 C332.20,298.13 332.40,303.17 331.90,306.60 C331.40,310.03 330.58,312.15 329.30,314.30 C328.02,316.45 326.13,317.98 324.20,319.50 C322.27,321.02 319.12,322.20 317.70,323.40 C316.28,324.60 315.27,325.63 315.70,326.70 C316.13,327.77 318.03,328.85 320.30,329.80 C322.57,330.75 327.32,331.53 329.30,332.40 C331.28,333.27 331.65,332.90 332.20,335.00 C332.75,337.10 332.52,341.83 332.60,345.00 C332.68,348.17 332.68,352.50 332.70,354.00 L333.20,354.00 Z" fill="#2161a6" />
<path d="M377.00,262.40 L377.40,262.40 C377.58,264.92 377.83,273.33 378.50,277.50 C379.17,281.67 379.93,284.53 381.40,287.40 C382.87,290.27 385.45,292.50 387.30,294.70 C389.15,296.90 391.38,298.63 392.50,300.60 C393.62,302.57 393.75,304.53 394.00,306.50 C394.25,308.47 394.07,310.80 394.00,312.40 C393.93,314.00 394.18,314.87 393.60,316.10 C393.02,317.33 391.43,318.37 390.50,319.80 C389.57,321.23 388.82,323.27 388.00,324.70 C387.18,326.13 386.42,327.17 385.60,328.40 C384.78,329.63 383.92,330.87 383.10,332.10 C382.28,333.33 381.42,334.57 380.70,335.80 C379.98,337.03 379.28,338.27 378.80,339.50 C378.32,340.73 378.02,341.45 377.80,343.20 C377.58,344.95 377.55,348.87 377.50,350.00 L377.00,350.00 Z" fill="#979c9c" />
<circle cx="376.26" cy="290.73" r="0.78" fill="#2161a6"/>
<circle cx="376.52" cy="294.09" r="0.78" fill="#2161a6"/>
<circle cx="375.50" cy="295.17" r="0.78" fill="#2161a6"/>
<circle cx="376.41" cy="297.10" r="0.78" fill="#2161a6"/>
<circle cx="375.50" cy="298.56" r="0.78" fill="#2161a6"/>
<circle cx="376.71" cy="299.62" r="0.78" fill="#2161a6"/>
<circle cx="374.92" cy="299.84" r="0.78" fill="#2161a6"/>
<circle cx="375.69" cy="301.70" r="0.78" fill="#2161a6"/>
<circle cx="373.77" cy="301.02" r="0.78" fill="#2161a6"/>
<circle cx="376.91" cy="302.76" r="0.78" fill="#2161a6"/>
<circle cx="374.69" cy="302.71" r="0.78" fill="#2161a6"/>
<circle cx="373.11" cy="303.15" r="0.78" fill="#2161a6"/>
<circle cx="375.55" cy="304.11" r="0.78" fill="#2161a6"/>
<circle cx="374.11" cy="304.34" r="0.78" fill="#2161a6"/>
<circle cx="372.67" cy="304.55" r="0.78" fill="#2161a6"/>
<circle cx="376.50" cy="305.58" r="0.78" fill="#2161a6"/>
<circle cx="375.14" cy="306.13" r="0.78" fill="#2161a6"/>
<circle cx="372.87" cy="305.95" r="0.78" fill="#2161a6"/>
<circle cx="376.01" cy="307.37" r="0.78" fill="#2161a6"/>
<circle cx="373.85" cy="307.48" r="0.78" fill="#2161a6"/>
<circle cx="372.51" cy="307.05" r="0.78" fill="#2161a6"/>
<circle cx="376.70" cy="308.55" r="0.78" fill="#2161a6"/>
<circle cx="374.58" cy="308.63" r="0.78" fill="#2161a6"/>
<circle cx="373.08" cy="308.68" r="0.78" fill="#2161a6"/>
<circle cx="371.60" cy="308.98" r="0.78" fill="#2161a6"/>
<circle cx="376.07" cy="310.56" r="0.78" fill="#2161a6"/>
<circle cx="374.40" cy="310.43" r="0.78" fill="#2161a6"/>
<circle cx="372.21" cy="310.00" r="0.78" fill="#2161a6"/>
<circle cx="376.69" cy="311.74" r="0.78" fill="#2161a6"/>
<circle cx="375.02" cy="311.42" r="0.78" fill="#2161a6"/>
<circle cx="372.98" cy="312.00" r="0.78" fill="#2161a6"/>
<circle cx="371.57" cy="311.84" r="0.78" fill="#2161a6"/>
<circle cx="375.47" cy="313.11" r="0.78" fill="#2161a6"/>
<circle cx="374.34" cy="313.29" r="0.78" fill="#2161a6"/>
<circle cx="372.69" cy="312.97" r="0.78" fill="#2161a6"/>
<circle cx="370.62" cy="313.40" r="0.78" fill="#2161a6"/>
<circle cx="376.56" cy="314.87" r="0.78" fill="#2161a6"/>
<circle cx="374.94" cy="314.40" r="0.78" fill="#2161a6"/>
<circle cx="372.92" cy="315.00" r="0.78" fill="#2161a6"/>
<circle cx="371.23" cy="314.45" r="0.78" fill="#2161a6"/>
<circle cx="369.68" cy="314.81" r="0.78" fill="#2161a6"/>
<circle cx="376.00" cy="316.13" r="0.78" fill="#2161a6"/>
<circle cx="374.05" cy="316.34" r="0.78" fill="#2161a6"/>
<circle cx="372.19" cy="316.05" r="0.78" fill="#2161a6"/>
<circle cx="370.73" cy="316.24" r="0.78" fill="#2161a6"/>
<circle cx="368.63" cy="315.87" r="0.78" fill="#2161a6"/>
<circle cx="376.35" cy="317.78" r="0.78" fill="#2161a6"/>
<circle cx="375.04" cy="317.95" r="0.78" fill="#2161a6"/>
<circle cx="373.39" cy="317.45" r="0.78" fill="#2161a6"/>
<circle cx="371.69" cy="317.96" r="0.78" fill="#2161a6"/>
<circle cx="369.69" cy="317.28" r="0.78" fill="#2161a6"/>
<circle cx="375.66" cy="318.95" r="0.78" fill="#2161a6"/>
<circle cx="373.82" cy="318.78" r="0.78" fill="#2161a6"/>
<circle cx="372.09" cy="319.36" r="0.78" fill="#2161a6"/>
<circle cx="370.33" cy="319.18" r="0.78" fill="#2161a6"/>
<circle cx="368.74" cy="318.89" r="0.78" fill="#2161a6"/>
<circle cx="367.47" cy="318.96" r="0.78" fill="#2161a6"/>
<circle cx="376.38" cy="320.55" r="0.78" fill="#2161a6"/>
<circle cx="375.04" cy="320.60" r="0.78" fill="#2161a6"/>
<circle cx="373.45" cy="320.51" r="0.78" fill="#2161a6"/>
<circle cx="371.52" cy="320.73" r="0.78" fill="#2161a6"/>
<circle cx="369.77" cy="320.73" r="0.78" fill="#2161a6"/>
<circle cx="368.08" cy="320.32" r="0.78" fill="#2161a6"/>
<circle cx="366.14" cy="320.78" r="0.78" fill="#2161a6"/>
<circle cx="375.92" cy="322.37" r="0.78" fill="#2161a6"/>
<circle cx="374.18" cy="322.11" r="0.78" fill="#2161a6"/>
<circle cx="372.12" cy="322.31" r="0.78" fill="#2161a6"/>
<circle cx="370.38" cy="322.01" r="0.78" fill="#2161a6"/>
<circle cx="368.70" cy="321.98" r="0.78" fill="#2161a6"/>
<circle cx="367.12" cy="322.01" r="0.78" fill="#2161a6"/>
<circle cx="365.70" cy="322.09" r="0.78" fill="#2161a6"/>
<circle cx="363.67" cy="322.25" r="0.78" fill="#2161a6"/>
<circle cx="376.76" cy="323.77" r="0.78" fill="#2161a6"/>
<circle cx="374.57" cy="323.62" r="0.78" fill="#2161a6"/>
<circle cx="373.48" cy="323.37" r="0.78" fill="#2161a6"/>
<circle cx="371.29" cy="323.76" r="0.78" fill="#2161a6"/>
<circle cx="369.70" cy="323.47" r="0.78" fill="#2161a6"/>
<circle cx="368.32" cy="323.46" r="0.78" fill="#2161a6"/>
<circle cx="366.19" cy="323.34" r="0.78" fill="#2161a6"/>
<circle cx="364.59" cy="323.68" r="0.78" fill="#2161a6"/>
<circle cx="362.91" cy="323.73" r="0.78" fill="#2161a6"/>
<circle cx="375.45" cy="324.84" r="0.78" fill="#2161a6"/>
<circle cx="374.14" cy="325.00" r="0.78" fill="#2161a6"/>
<circle cx="372.35" cy="325.32" r="0.78" fill="#2161a6"/>
<circle cx="370.49" cy="324.79" r="0.78" fill="#2161a6"/>
<circle cx="368.62" cy="325.00" r="0.78" fill="#2161a6"/>
<circle cx="367.11" cy="325.00" r="0.78" fill="#2161a6"/>
<circle cx="365.20" cy="324.67" r="0.78" fill="#2161a6"/>
<circle cx="363.77" cy="325.20" r="0.78" fill="#2161a6"/>
<circle cx="362.01" cy="325.31" r="0.78" fill="#2161a6"/>
<circle cx="376.66" cy="326.43" r="0.78" fill="#2161a6"/>
<circle cx="375.09" cy="326.31" r="0.78" fill="#2161a6"/>
<circle cx="373.27" cy="326.74" r="0.78" fill="#2161a6"/>
<circle cx="371.53" cy="326.37" r="0.78" fill="#2161a6"/>
<circle cx="369.52" cy="326.55" r="0.78" fill="#2161a6"/>
<circle cx="367.88" cy="326.41" r="0.78" fill="#2161a6"/>
<circle cx="366.43" cy="326.80" r="0.78" fill="#2161a6"/>
<circle cx="364.82" cy="326.51" r="0.78" fill="#2161a6"/>
<circle cx="363.25" cy="326.36" r="0.78" fill="#2161a6"/>
<circle cx="375.67" cy="328.10" r="0.78" fill="#2161a6"/>
<circle cx="374.09" cy="327.78" r="0.78" fill="#2161a6"/>
<circle cx="372.29" cy="328.20" r="0.78" fill="#2161a6"/>
<circle cx="370.47" cy="328.12" r="0.78" fill="#2161a6"/>
<circle cx="368.63" cy="328.29" r="0.78" fill="#2161a6"/>
<circle cx="367.38" cy="327.85" r="0.78" fill="#2161a6"/>
<circle cx="365.89" cy="328.18" r="0.78" fill="#2161a6"/>
<circle cx="376.29" cy="329.28" r="0.78" fill="#2161a6"/>
<circle cx="374.89" cy="329.80" r="0.78" fill="#2161a6"/>
<circle cx="372.95" cy="329.14" r="0.78" fill="#2161a6"/>
<circle cx="371.37" cy="329.14" r="0.78" fill="#2161a6"/>
<circle cx="369.74" cy="329.48" r="0.78" fill="#2161a6"/>
<circle cx="375.71" cy="330.68" r="0.78" fill="#2161a6"/>
<circle cx="373.72" cy="331.15" r="0.78" fill="#2161a6"/>
<circle cx="372.31" cy="330.92" r="0.78" fill="#2161a6"/>
<circle cx="376.58" cy="332.54" r="0.78" fill="#2161a6"/>
<circle cx="375.18" cy="332.64" r="0.78" fill="#2161a6"/>
<circle cx="375.91" cy="333.78" r="0.78" fill="#2161a6"/>
<circle cx="376.37" cy="335.08" r="0.78" fill="#2161a6"/>
<circle cx="376.60" cy="340.00" r="0.60" fill="#2161a6"/>
<circle cx="376.60" cy="343.50" r="0.60" fill="#2161a6"/>
<circle cx="376.60" cy="347.00" r="0.60" fill="#2161a6"/>
<circle cx="376.60" cy="350.50" r="0.60" fill="#2161a6"/>
<circle cx="376.60" cy="354.00" r="0.60" fill="#2161a6"/>
<line x1="308.60" y1="327.50" x2="404.00" y2="327.50" stroke="#111" stroke-width="1.3" stroke-dasharray="5.2 6.0"/>
<text x="332.10" y="260.12" font-size="7.00" fill="#262626" textLength="48.847528125" lengthAdjust="spacingAndGlyphs"><tspan font-style="italic">P</tspan> = 5.66 × 10<tspan font-size="4.34" dy="-4.09">−289</tspan></text>
<line x1="333.50" y1="261.50" x2="377.70" y2="261.50" stroke="#1a1a1a" stroke-width="0.95" />
<rect x="340.75" y="295.65" width="18.50" height="6.70" rx="1.2" fill="#fff" stroke="#3a6cb8" stroke-width="0.75"/>
<text x="350.00" y="301.25" font-size="6.25" fill="#3a6cb8" text-anchor="middle" textLength="15.600000000000046" lengthAdjust="spacingAndGlyphs">34.2%</text>
<rect x="383.35" y="295.65" width="18.60" height="6.70" rx="1.2" fill="#fff" stroke="#3a6cb8" stroke-width="0.75"/>
<text x="392.65" y="301.25" font-size="6.25" fill="#3a6cb8" text-anchor="middle" textLength="15.700000000000012" lengthAdjust="spacingAndGlyphs">79.3%</text>
<rect x="339.65" y="338.25" width="19.60" height="6.70" rx="1.2" fill="#fff" stroke="#e8474a" stroke-width="0.75"/>
<text x="349.45" y="343.85" font-size="6.25" fill="#e8474a" text-anchor="middle" textLength="16.70000000000001" lengthAdjust="spacingAndGlyphs">28.7%</text>
<rect x="384.65" y="338.25" width="16.20" height="6.70" rx="1.2" fill="#fff" stroke="#e8474a" stroke-width="0.75"/>
<text x="392.75" y="343.85" font-size="6.25" fill="#e8474a" text-anchor="middle" textLength="13.299999999999978" lengthAdjust="spacingAndGlyphs">6.3%</text>
<rect x="334.00" y="326.04" width="8.50" height="1.80" fill="#fff" />
<text x="334.30" y="324.56" font-size="6.15" fill="#eee" textLength="9.67603125" lengthAdjust="spacingAndGlyphs">103</text>
<rect x="378.30" y="310.60" width="8.00" height="1.80" fill="#fff" />
<text x="378.60" y="309.11" font-size="6.15" fill="#fff" textLength="9.67603125" lengthAdjust="spacingAndGlyphs">157</text>
<line x1="415.50" y1="282.80" x2="415.50" y2="322.70" stroke="#4a74bd" stroke-width="0.9" />
<path d="M414.00,283.90 L415.60,280.30 L417.20,283.90 Z" fill="#3d6bb5"/>
<text x="0" y="2.52" font-size="7.00" fill="#262626" text-anchor="middle" textLength="44.392218750000005" lengthAdjust="spacingAndGlyphs" transform="translate(410.20 302.40) rotate(-90)">Re-adenylation</text>
<line x1="415.50" y1="330.80" x2="415.50" y2="371.50" stroke="#ec4a4d" stroke-width="0.9" />
<path d="M414.00,370.40 L415.60,374.00 L417.20,370.40 Z" fill="#e23b3e"/>
<text x="0" y="2.52" font-size="7.00" fill="#262626" text-anchor="middle" textLength="42.194624999999995" lengthAdjust="spacingAndGlyphs" transform="translate(410.20 351.50) rotate(-90)">Deadenylation</text>
<line x1="308.50" y1="362.50" x2="308.50" y2="373.00" stroke="#333" stroke-width="0.5" />
<rect x="308.50" y="362.50" width="0.70" height="4.00" fill="#2161a6" />
<text x="309.60" y="366.48" font-size="5.51" fill="#262626" textLength="22.8" lengthAdjust="spacingAndGlyphs"><tspan font-style="italic">n</tspan> = 1,802</text>
<text x="309.60" y="373.08" font-size="5.51" fill="#262626" textLength="22.8" lengthAdjust="spacingAndGlyphs"><tspan font-style="italic">n</tspan> = 3,206</text>
<rect x="358.00" y="363.20" width="2.30" height="4.20" fill="#2161a6" />
<rect x="358.00" y="367.40" width="23.10" height="5.50" fill="#8e8e8e" stroke="#333" stroke-width="0.35"/>
<line x1="358.50" y1="362.80" x2="358.50" y2="373.20" stroke="#333" stroke-width="0.5" />
<text x="362.50" y="366.48" font-size="5.51" fill="#262626" textLength="12.8" lengthAdjust="spacingAndGlyphs"><tspan font-style="italic">n</tspan> = 258</text>
<text x="382.20" y="372.98" font-size="5.51" fill="#262626" textLength="22.3" lengthAdjust="spacingAndGlyphs"><tspan font-style="italic">n</tspan> = 2,415</text>
<text x="304.10" y="380.92" font-size="7.00" fill="#262626" textLength="9.7" lengthAdjust="spacingAndGlyphs">0%</text>
<text x="323.30" y="380.92" font-size="7.00" fill="#262626" textLength="15.1" lengthAdjust="spacingAndGlyphs">0.5%</text>
<text x="353.00" y="380.92" font-size="7.00" fill="#262626" textLength="9.9" lengthAdjust="spacingAndGlyphs">0%</text>
<text x="371.60" y="380.92" font-size="7.00" fill="#262626" textLength="15.0" lengthAdjust="spacingAndGlyphs">0.5%</text>
<text x="315.10" y="391.32" font-size="7.00" fill="#262626" textLength="84.8" lengthAdjust="spacingAndGlyphs">Abundance of reporter reads</text>
<text x="322.70" y="399.12" font-size="7.00" fill="#262626" textLength="70.3" lengthAdjust="spacingAndGlyphs">(relative to endogenous)</text>
</svg>
</body></html>
